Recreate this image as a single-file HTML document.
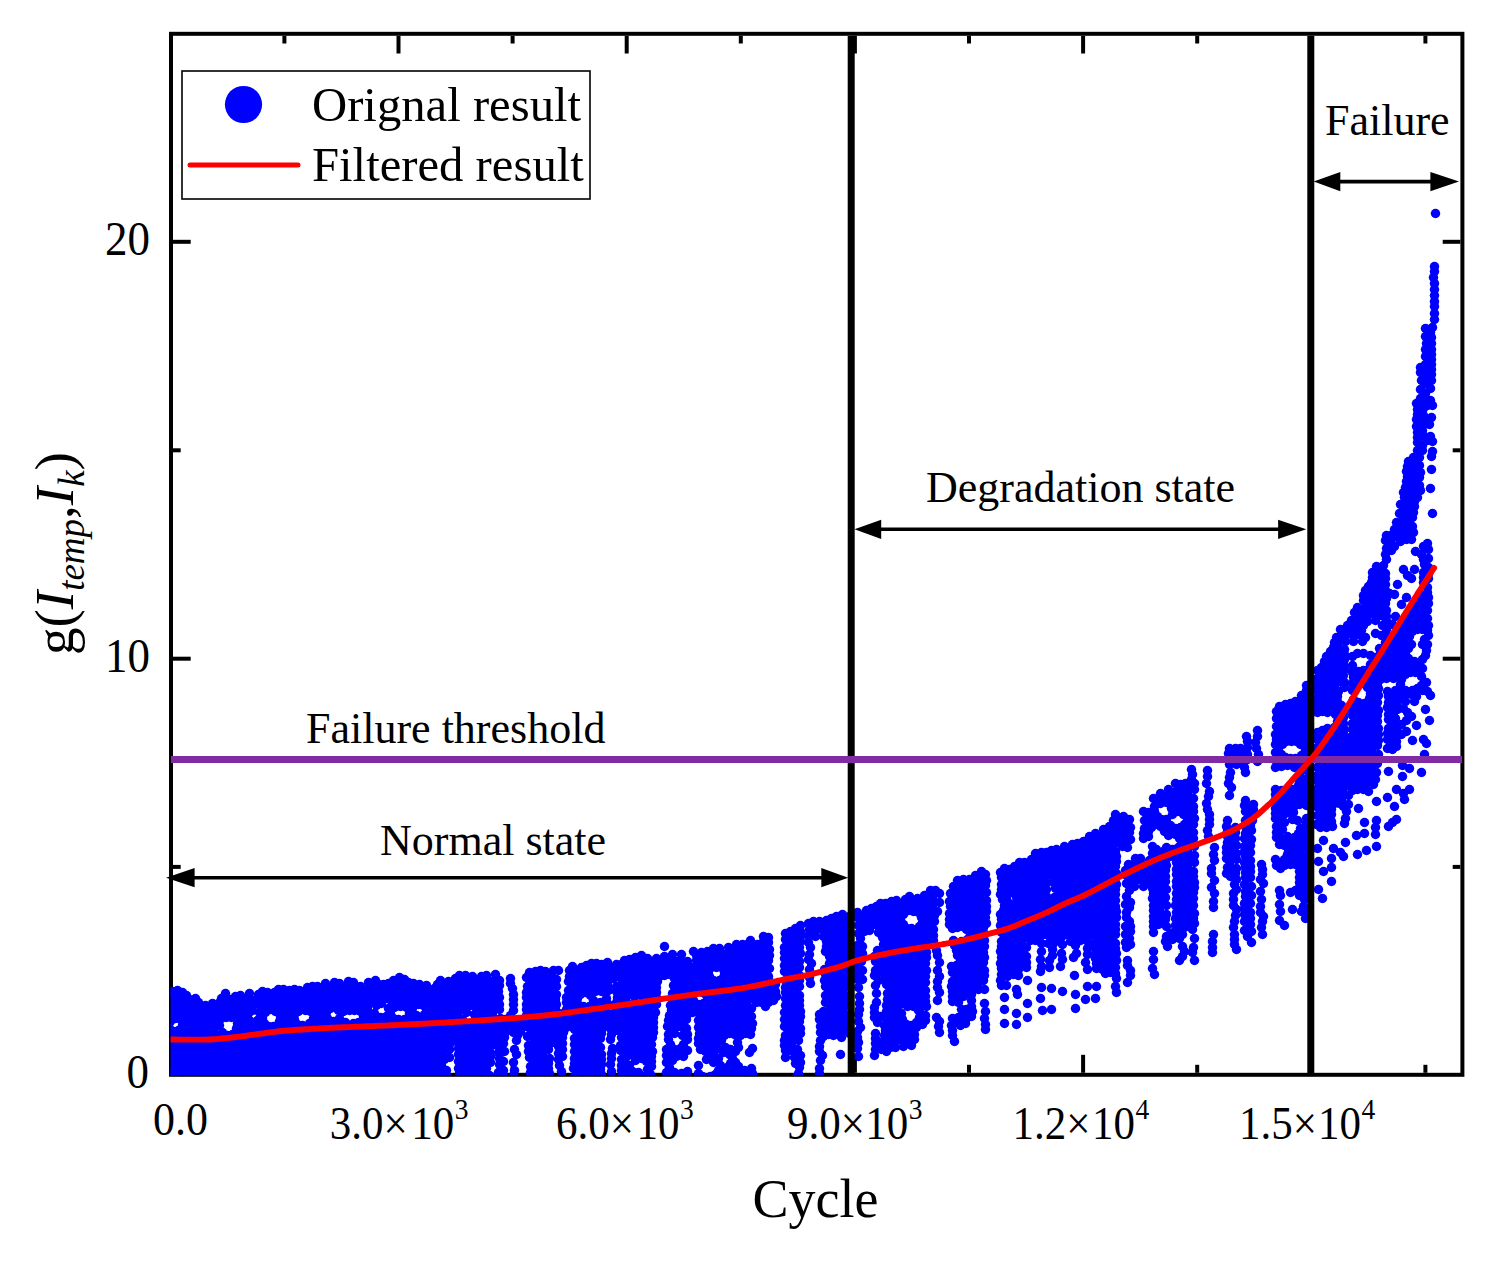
<!DOCTYPE html>
<html><head><meta charset="utf-8">
<style>
html,body{margin:0;padding:0;background:#fff;}
svg{display:block;}
text{font-family:"Liberation Serif",serif;fill:#000;}
</style></head>
<body>
<svg width="1490" height="1265" viewBox="0 0 1490 1265">
<rect x="0" y="0" width="1490" height="1265" fill="#fff"/>
<!-- frame -->
<rect x="171" y="33.8" width="1291.4" height="1041" fill="none" stroke="#000" stroke-width="4"/>
<!-- ticks -->
<g stroke="#000" stroke-width="4">
<line x1="398.5" y1="35.8" x2="398.5" y2="53.5"/>
<line x1="398.5" y1="1072.8" x2="398.5" y2="1054.8"/>
<line x1="626.7" y1="35.8" x2="626.7" y2="53.5"/>
<line x1="626.7" y1="1072.8" x2="626.7" y2="1054.8"/>
<line x1="854.9" y1="35.8" x2="854.9" y2="53.5"/>
<line x1="854.9" y1="1072.8" x2="854.9" y2="1054.8"/>
<line x1="1083.1" y1="35.8" x2="1083.1" y2="53.5"/>
<line x1="1083.1" y1="1072.8" x2="1083.1" y2="1054.8"/>
<line x1="1311.3" y1="35.8" x2="1311.3" y2="53.5"/>
<line x1="1311.3" y1="1072.8" x2="1311.3" y2="1054.8"/>
<line x1="284.4" y1="35.8" x2="284.4" y2="43.5"/>
<line x1="284.4" y1="1072.8" x2="284.4" y2="1064.8"/>
<line x1="512.6" y1="35.8" x2="512.6" y2="43.5"/>
<line x1="512.6" y1="1072.8" x2="512.6" y2="1064.8"/>
<line x1="740.8" y1="35.8" x2="740.8" y2="43.5"/>
<line x1="740.8" y1="1072.8" x2="740.8" y2="1064.8"/>
<line x1="969.0" y1="35.8" x2="969.0" y2="43.5"/>
<line x1="969.0" y1="1072.8" x2="969.0" y2="1064.8"/>
<line x1="1197.2" y1="35.8" x2="1197.2" y2="43.5"/>
<line x1="1197.2" y1="1072.8" x2="1197.2" y2="1064.8"/>
<line x1="1425.4" y1="35.8" x2="1425.4" y2="43.5"/>
<line x1="1425.4" y1="1072.8" x2="1425.4" y2="1064.8"/>
<line x1="173" y1="658.7" x2="190.7" y2="658.7"/>
<line x1="1460.4" y1="658.7" x2="1442.7" y2="658.7"/>
<line x1="173" y1="241.8" x2="190.7" y2="241.8"/>
<line x1="1460.4" y1="241.8" x2="1442.7" y2="241.8"/>
<line x1="173" y1="866.9" x2="180.7" y2="866.9"/>
<line x1="1460.4" y1="866.9" x2="1452.7" y2="866.9"/>
<line x1="173" y1="450.3" x2="180.7" y2="450.3"/>
<line x1="1460.4" y1="450.3" x2="1452.7" y2="450.3"/>
</g>
<defs><clipPath id="pc"><rect x="170.6" y="0" width="1292" height="1075.6"/></clipPath></defs>
<g clip-path="url(#pc)">
<path fill="#00f" fill-rule="evenodd" d="M501 1070 501 1071 500 1072 500 1084 501 1084ZM668 1046 668 1084 685 1084 685 1075 676 1075 675 1074 674 1074 669 1069 669 1068 668 1067 668 1062 669 1061 669 1060 673 1056 674 1056 675 1055 676 1055 677 1054 684 1054 685 1055 685 1051 682 1048 681 1049 680 1049 679 1050 674 1050 673 1049 672 1049 669 1046ZM969 1010 968 1011 961 1011 961 1016 960 1017 960 1018 958 1020 957 1020 956 1021 954 1021 953 1020 953 1028 953 1027 955 1025 956 1025 957 1024 960 1024 962 1022 963 1022 964 1021 964 1019 965 1018 965 1017 967 1015 968 1015 969 1014 970 1014 970 1010ZM859 943 859 981 859 980 860 979 860 946 859 945ZM765 937 765 942 764 943 764 944 762 946 761 946 760 947 758 947 757 946 756 946 754 944 753 944 751 942 750 943 750 944 748 946 747 946 746 947 743 947 742 946 735 946 734 947 733 947 732 948 729 948 728 949 727 949 726 950 723 950 722 949 720 949 719 950 708 950 708 951 706 953 705 953 704 954 702 954 701 953 700 953 699 952 696 952 697 953 697 954 698 955 698 958 697 959 697 960 695 962 694 962 693 963 689 963 688 962 687 962 685 960 685 959 683 957 682 957 680 955 679 956 678 956 677 957 674 957 673 956 671 956 670 957 669 957 668 958 662 958 661 959 658 959 656 961 655 961 654 962 652 962 651 961 650 961 648 959 646 959 645 958 642 958 641 957 640 957 639 958 638 958 637 959 635 959 634 960 630 960 629 961 626 961 624 963 623 963 621 965 620 965 619 966 616 966 615 965 614 965 613 964 611 964 610 963 609 963 607 965 606 965 605 966 603 966 602 965 601 965 600 964 598 964 597 965 590 965 589 966 586 966 585 967 584 967 583 968 582 968 580 970 579 970 578 971 576 971 575 970 574 970 572 968 571 969 570 969 570 982 569 983 569 995 568 996 568 1008 567 1009 567 1010 566 1011 566 1012 564 1014 563 1014 562 1015 559 1015 558 1014 557 1014 555 1012 555 1011 554 1010 554 994 555 993 555 979 556 978 556 971 555 971 554 970 553 971 549 971 548 972 543 972 542 971 540 971 539 972 535 972 534 973 528 973 528 989 527 990 527 1016 526 1017 526 1018 524 1020 523 1020 522 1021 516 1021 515 1020 514 1020 512 1018 512 1017 511 1016 511 1017 509 1019 508 1019 507 1020 502 1020 501 1019 500 1019 498 1017 498 1016 497 1015 497 976 496 975 495 976 494 976 493 977 486 977 485 978 480 978 479 977 478 977 477 978 476 978 475 979 473 979 472 978 471 978 469 976 464 976 463 977 460 977 459 978 458 978 457 979 455 979 454 980 453 980 452 981 451 981 450 982 449 982 448 983 446 983 445 982 444 982 442 980 441 981 440 981 439 982 439 984 438 985 438 986 436 988 435 988 434 989 430 989 429 988 428 988 427 987 426 987 424 985 418 985 417 984 416 984 415 983 414 983 413 984 410 984 409 983 408 983 407 982 406 982 405 981 404 981 401 978 400 979 397 979 396 980 395 980 394 981 393 981 393 982 391 984 390 984 389 985 388 985 387 986 379 986 378 985 377 985 374 982 370 982 369 983 368 983 367 984 366 984 366 985 364 987 363 987 362 988 359 988 358 987 357 987 356 986 355 986 354 985 353 985 352 984 350 984 349 983 348 983 347 982 346 983 343 983 342 984 341 984 340 985 337 985 336 984 335 984 334 983 333 984 331 984 330 983 329 983 328 984 325 984 323 986 322 986 321 987 320 987 319 988 314 988 313 987 308 987 305 990 304 990 303 991 296 991 295 990 292 990 291 991 287 991 286 990 280 990 279 991 278 991 277 992 276 992 275 993 274 993 273 994 268 994 267 993 262 993 261 994 260 994 259 995 257 995 256 996 250 996 249 995 243 995 242 996 239 996 238 997 237 997 236 998 235 998 233 1000 232 1000 231 1001 229 1001 228 1000 227 1000 225 998 225 997 223 997 222 998 222 999 221 1000 221 1001 218 1004 217 1004 216 1005 207 1005 206 1006 201 1006 200 1005 199 1005 198 1004 197 1004 194 1001 194 1000 189 1000 188 999 187 999 184 996 183 996 181 994 180 994 179 993 178 993 176 991 175 992 174 992 173 993 162 993 162 1070 171 1070 172 1071 173 1071 175 1073 175 1074 176 1075 176 1084 447 1084 447 1072 446 1072 445 1071 444 1071 441 1068 441 1067 440 1066 440 1061 441 1060 441 1059 444 1056 445 1056 446 1055 447 1055 447 1043 448 1042 448 1041 450 1039 451 1039 452 1038 455 1038 456 1039 457 1039 459 1041 459 1042 460 1043 460 1084 488 1084 488 1073 487 1072 487 1071 486 1070 486 1069 485 1068 485 1066 486 1065 486 1064 487 1063 487 1062 488 1061 488 1048 489 1047 489 1046 491 1044 492 1044 493 1043 495 1043 496 1044 497 1044 499 1046 499 1047 500 1048 500 1062 501 1063 501 1064 501 1054 502 1053 502 1035 503 1034 503 1033 505 1031 506 1031 507 1030 511 1030 512 1031 513 1031 515 1033 515 1034 516 1034 516 1033 518 1031 519 1031 520 1030 524 1030 525 1031 526 1031 528 1033 528 1034 529 1035 529 1040 530 1041 530 1051 531 1052 531 1062 532 1063 532 1084 547 1084 547 1045 548 1044 548 1043 550 1041 551 1041 552 1040 555 1040 556 1041 557 1041 559 1043 559 1044 560 1045 560 1059 560 1048 561 1047 561 1035 562 1034 562 1029 563 1028 563 1027 565 1025 566 1025 567 1024 571 1024 572 1025 573 1025 575 1027 575 1028 576 1029 576 1046 575 1047 575 1066 574 1067 574 1084 599 1084 599 1029 600 1028 600 1027 602 1025 603 1025 604 1024 607 1024 608 1025 609 1025 611 1027 611 1028 612 1029 612 1030 613 1029 614 1029 615 1028 617 1028 618 1029 619 1029 621 1031 621 1032 622 1033 622 1084 649 1084 649 1068 650 1067 650 1044 651 1043 651 1024 652 1023 652 1016 653 1015 653 1009 654 1008 654 1002 655 1001 655 984 656 983 656 978 657 977 657 976 659 974 660 974 661 973 670 973 671 974 672 974 674 976 674 977 675 978 675 987 674 988 674 996 673 997 673 1003 672 1004 672 1010 671 1011 671 1017 670 1018 670 1025 669 1026 669 1035 672 1032 673 1032 674 1031 680 1031 681 1032 682 1032 685 1035 685 1036 685 1016 686 1015 686 1014 689 1011 690 1011 691 1010 695 1010 696 1011 697 1011 699 1013 699 1014 700 1015 700 1048 702 1048 703 1049 704 1049 707 1052 707 1053 708 1054 708 1059 711 1059 712 1060 713 1060 714 1061 715 1061 716 1062 716 1057 717 1056 717 1055 720 1052 721 1052 722 1051 727 1051 728 1052 729 1052 732 1055 732 1056 733 1057 733 1062 732 1063 732 1064 729 1067 728 1067 727 1068 722 1068 721 1067 720 1067 720 1071 719 1072 719 1073 717 1075 716 1075 715 1076 714 1076 713 1077 712 1077 711 1078 704 1078 703 1077 702 1077 701 1076 700 1076 700 1084 750 1084 750 1071 749 1071 748 1072 744 1072 743 1071 742 1071 741 1070 740 1070 735 1065 735 1064 734 1063 734 1050 733 1050 732 1051 727 1051 726 1050 725 1050 722 1047 722 1046 721 1045 721 1044 720 1043 720 1040 721 1039 721 1038 722 1037 722 1036 725 1033 726 1033 727 1032 732 1032 733 1033 734 1033 737 1036 740 1033 741 1033 742 1032 743 1032 744 1031 749 1031 750 1032 750 1006 751 1005 751 1004 754 1001 755 1001 756 1000 757 1000 758 999 760 999 761 1000 762 1000 764 1002 764 1003 765 1003 769 999 770 999 771 998 774 998 774 984 772 984 771 983 770 983 768 981 768 980 767 979 767 938 766 937ZM635 1058 636 1057 641 1057 642 1058 644 1058 645 1059 646 1059 649 1062 649 1063 650 1064 650 1067 649 1068 649 1069 647 1071 646 1071 645 1072 643 1072 642 1073 635 1073 634 1072 632 1072 631 1071 630 1071 628 1069 628 1068 627 1067 627 1064 628 1063 628 1062 631 1059 632 1059 633 1058ZM171 1018 172 1017 178 1017 179 1018 180 1018 183 1021 183 1022 184 1023 184 1027 183 1028 183 1029 181 1031 180 1031 179 1032 178 1032 177 1033 173 1033 172 1032 171 1032 170 1031 169 1031 167 1029 167 1028 166 1027 166 1023 167 1022 167 1021 170 1018ZM224 1016 225 1015 230 1015 231 1016 232 1016 233 1017 234 1017 236 1019 236 1020 237 1021 237 1022 238 1023 238 1028 237 1029 237 1030 236 1031 236 1032 234 1034 233 1034 232 1035 231 1035 230 1036 225 1036 224 1035 223 1035 222 1034 221 1034 219 1032 219 1031 218 1030 218 1029 217 1028 217 1023 218 1022 218 1021 219 1020 219 1019 221 1017 222 1017 223 1016ZM466 1011 467 1010 472 1010 473 1011 474 1011 477 1014 477 1015 478 1016 478 1019 477 1020 477 1021 474 1024 473 1024 472 1025 467 1025 466 1024 465 1024 462 1021 462 1020 461 1019 461 1016 462 1015 462 1014 465 1011ZM299 1009 300 1008 307 1008 308 1009 309 1009 314 1014 314 1015 315 1016 315 1018 314 1019 314 1020 313 1021 313 1022 310 1025 309 1025 308 1026 299 1026 298 1025 297 1025 293 1021 293 1020 292 1019 292 1015 293 1014 293 1013 296 1010 297 1010 298 1009ZM268 1009 269 1008 273 1008 274 1009 275 1009 276 1010 277 1010 280 1013 280 1014 281 1015 281 1021 280 1022 280 1023 277 1026 276 1026 275 1027 274 1027 273 1028 269 1028 268 1027 267 1027 266 1026 265 1026 262 1023 262 1022 261 1021 261 1015 262 1014 262 1013 265 1010 266 1010 267 1009ZM250 1009 251 1008 256 1008 257 1009 258 1009 260 1011 260 1012 261 1013 261 1018 260 1019 260 1020 258 1022 257 1022 256 1023 251 1023 250 1022 249 1022 247 1020 247 1019 246 1018 246 1013 247 1012 247 1011 249 1009ZM330 1006 331 1005 335 1005 336 1006 337 1006 341 1010 341 1011 342 1011 343 1010 344 1010 345 1009 346 1009 347 1008 356 1008 357 1009 358 1009 359 1010 360 1010 363 1013 363 1014 364 1015 364 1018 363 1019 363 1020 360 1023 359 1023 358 1024 357 1024 356 1025 347 1025 346 1024 345 1024 344 1023 343 1023 340 1020 340 1019 338 1021 337 1021 336 1022 335 1022 334 1023 332 1023 331 1022 330 1022 329 1021 328 1021 325 1018 325 1017 324 1016 324 1012 325 1011 325 1010 329 1006ZM416 1003 417 1002 422 1002 423 1003 424 1003 427 1006 427 1007 428 1008 428 1011 427 1012 427 1013 424 1016 423 1016 422 1017 417 1017 416 1016 415 1016 412 1013 412 1012 411 1011 411 1008 412 1007 412 1006 415 1003ZM378 1002 379 1001 383 1001 384 1002 385 1002 386 1003 387 1003 389 1005 389 1006 390 1007 390 1008 393 1005 394 1005 395 1004 403 1004 404 1005 405 1005 409 1009 409 1010 410 1011 410 1014 409 1015 409 1016 405 1020 404 1020 403 1021 395 1021 394 1020 393 1020 389 1016 389 1015 387 1017 386 1017 385 1018 384 1018 383 1019 379 1019 378 1018 377 1018 376 1017 375 1017 373 1015 373 1014 372 1013 372 1007 373 1006 373 1005 375 1003 376 1003 377 1002ZM635 994 636 993 643 993 644 994 645 994 647 996 647 997 648 998 648 999 649 1000 649 1003 648 1004 648 1005 647 1006 647 1007 645 1009 644 1009 643 1010 636 1010 635 1009 634 1009 632 1007 632 1006 631 1005 631 1004 630 1003 630 1000 631 999 631 998 632 997 632 996 634 994ZM697 990 698 989 701 989 702 990 703 990 704 991 705 991 707 993 707 994 708 995 708 1000 707 1001 707 1002 705 1004 704 1004 703 1005 702 1005 701 1006 698 1006 697 1005 696 1005 695 1004 694 1004 692 1002 692 1001 691 1000 691 995 692 994 692 993 694 991 695 991 696 990ZM610 978 611 977 613 977 614 978 615 978 617 980 617 981 618 982 618 1005 617 1006 617 1007 615 1009 614 1009 613 1010 611 1010 610 1009 609 1009 607 1007 607 1006 606 1005 606 1000 606 1001 604 1003 603 1003 602 1004 595 1004 594 1003 593 1003 593 1004 590 1007 589 1007 588 1008 581 1008 580 1007 579 1007 576 1004 576 1003 575 1002 575 997 576 996 576 995 579 992 580 992 581 991 588 991 589 992 590 992 591 993 591 992 593 990 594 990 595 989 601 989 602 990 603 990 606 993 606 994 606 982 607 981 607 980 609 978ZM712 966 713 965 719 965 720 966 721 966 724 969 724 970 725 971 725 975 724 976 724 977 721 980 720 980 719 981 713 981 712 980 711 980 708 977 708 976 707 975 707 971 708 970 708 969 711 966ZM797 927 797 928 794 931 793 931 792 932 786 932 786 1055 792 1055 793 1056 794 1056 796 1058 796 1059 797 1060 797 1070 797 1069 798 1068 798 1052 797 1051 797 1050 796 1049 796 1038 797 1037 797 1036 798 1035 798 927ZM847 915 846 916 842 916 841 917 839 917 838 916 837 916 837 917 835 919 834 919 833 920 831 920 830 921 828 921 827 920 827 921 825 923 824 923 823 924 821 924 820 923 819 923 818 922 817 922 816 923 812 923 811 922 810 922 810 938 810 937 812 935 813 935 814 934 816 934 817 935 818 934 819 934 820 933 822 933 823 934 824 934 826 936 826 937 827 938 827 953 828 953 831 956 831 957 832 958 832 962 831 963 831 964 829 966 828 966 827 967 826 967 826 1009 825 1010 825 1011 823 1013 822 1013 821 1014 821 1037 821 1036 823 1034 824 1034 825 1033 833 1033 834 1034 835 1034 837 1036 838 1036 839 1035 841 1035 842 1036 843 1036 844 1035 845 1035 846 1034 847 1034ZM1304 906 1304 907 1302 909 1301 909 1301 910 1302 910 1304 912 1304 913ZM929 892 927 894 926 894 923 897 922 897 921 898 919 898 918 899 915 899 914 898 913 898 912 899 910 899 909 898 907 900 906 900 905 901 903 901 902 900 901 901 900 901 899 902 896 902 895 901 893 901 892 902 891 902 890 903 889 903 888 904 885 904 884 903 883 904 882 904 879 907 878 907 877 908 875 908 874 909 870 909 868 911 867 911 866 912 860 912 859 911 859 939 859 937 860 936 860 934 861 933 861 932 863 930 864 930 865 929 866 929 867 928 869 928 870 929 875 929 876 930 877 930 878 931 879 931 880 932 881 932 883 934 883 935 884 936 884 937 885 938 885 939 886 940 886 942 885 943 885 944 884 945 884 946 883 947 883 948 881 950 880 950 879 951 878 951 877 952 876 952 876 980 876 979 878 977 879 977 880 976 882 976 883 977 884 977 886 979 886 980 887 981 887 983 888 984 888 1009 887 1010 887 1012 886 1013 886 1014 884 1016 883 1016 882 1017 880 1017 879 1016 878 1016 876 1014 876 1013 876 1018 877 1019 877 1020 881 1020 882 1021 883 1021 885 1023 885 1024 886 1025 886 1033 885 1034 885 1035 883 1037 882 1037 881 1038 879 1038 878 1037 877 1037 876 1036 876 1052 876 1051 878 1049 879 1049 880 1048 882 1048 883 1049 884 1049 885 1050 886 1049 886 1048 888 1046 889 1046 890 1045 892 1045 893 1046 895 1046 896 1045 897 1045 898 1044 900 1044 901 1045 902 1045 903 1044 906 1044 907 1045 908 1044 909 1044 910 1043 913 1043 913 1029 914 1028 914 1027 916 1025 917 1025 918 1024 919 1024 922 1021 923 1021 924 1020 924 943 925 942 925 941 927 939 928 939 929 938 931 938 932 939 932 937 931 936 931 935 930 934 930 932 931 931 931 930 932 929 932 921 933 920 933 915 934 914 934 912 935 911 935 910 937 908 937 893 936 892ZM906 1006 907 1005 914 1005 915 1006 916 1006 919 1009 919 1010 920 1011 920 1012 921 1013 921 1018 920 1019 920 1020 919 1021 919 1022 916 1025 915 1025 914 1026 907 1026 906 1025 905 1025 902 1022 902 1021 901 1020 901 1019 900 1018 900 1013 901 1012 901 1011 902 1010 902 1009 905 1006ZM907 910 908 909 914 909 915 910 916 910 917 911 918 911 922 915 922 916 923 917 923 922 922 923 922 924 918 928 917 928 916 929 915 929 914 930 908 930 907 929 906 929 905 928 904 928 900 924 900 923 899 922 899 917 900 916 900 915 904 911 905 911 906 910ZM980 872 980 873 978 875 977 875 976 876 974 876 971 879 970 879 969 880 966 880 965 879 964 879 963 880 961 880 960 879 960 880 957 883 957 884 955 886 954 886 953 887 952 887 953 888 953 890 952 891 952 892 951 893 951 926 952 927 953 926 954 926 955 925 963 925 964 926 965 926 966 927 967 927 970 930 970 931 971 932 971 936 970 937 970 938 967 941 966 941 965 942 964 942 963 943 955 943 956 944 956 946 957 947 957 949 958 950 958 952 959 953 959 955 960 956 960 958 961 959 961 962 960 963 960 964 958 966 957 966 956 967 954 967 953 966 953 999 954 998 957 998 957 997 959 995 960 995 961 994 968 994 969 995 970 995 970 992 971 991 971 990 973 988 974 988 975 987 982 987 982 926 983 925 983 924 984 923 984 872 983 873 981 873ZM1228 824 1228 874 1230 874 1231 875 1232 875 1234 877 1234 878 1234 828 1232 828 1231 827 1230 827 1228 825ZM1116 817 1116 818 1115 819 1115 820 1113 822 1112 822 1111 823 1111 824 1110 825 1110 826 1106 830 1105 830 1104 831 1101 831 1100 832 1097 832 1095 834 1094 834 1093 835 1092 835 1091 836 1091 837 1089 839 1088 839 1087 840 1086 840 1085 841 1084 841 1083 842 1080 842 1079 843 1078 843 1077 844 1075 844 1074 845 1073 845 1072 846 1069 846 1068 845 1066 847 1065 847 1064 848 1061 848 1060 849 1059 849 1058 850 1056 850 1055 851 1054 851 1053 852 1050 852 1049 853 1044 853 1043 854 1041 854 1040 853 1039 854 1038 854 1037 855 1036 855 1035 856 1035 857 1033 859 1032 859 1029 862 1028 862 1027 863 1026 863 1025 864 1017 864 1016 865 1015 865 1015 866 1014 867 1014 868 1012 870 1011 870 1010 871 1008 871 1007 870 1006 870 1005 869 1002 869 1002 896 1005 899 1005 900 1005 895 1006 894 1006 893 1008 891 1009 891 1010 890 1012 890 1013 891 1014 891 1016 893 1016 894 1017 895 1017 906 1016 907 1016 908 1014 910 1013 910 1012 911 1010 911 1009 910 1008 910 1006 908 1006 907 1006 909 1005 910 1005 911 1003 913 1002 913 1002 983 1005 983 1005 978 1006 977 1006 976 1008 974 1009 974 1010 973 1013 973 1014 974 1016 974 1016 968 1017 967 1017 966 1019 964 1020 964 1021 963 1023 963 1024 964 1025 964 1025 944 1026 943 1026 942 1028 940 1029 940 1030 939 1031 939 1032 938 1034 938 1035 939 1036 939 1037 940 1038 940 1040 942 1040 943 1040 942 1042 940 1043 940 1044 939 1046 939 1047 940 1048 940 1050 942 1050 943 1051 943 1051 942 1053 940 1054 940 1055 939 1057 939 1058 940 1059 940 1061 942 1061 943 1062 943 1062 942 1064 940 1065 940 1066 939 1070 939 1071 940 1072 940 1074 942 1074 943 1075 943 1075 942 1077 940 1078 940 1079 939 1082 939 1083 940 1084 940 1086 942 1086 943 1086 942 1088 940 1089 940 1090 939 1092 939 1093 940 1094 940 1096 942 1096 943 1097 944 1097 969 1098 968 1099 968 1100 967 1102 967 1103 968 1104 968 1106 970 1106 971 1107 972 1108 972 1109 971 1111 971 1112 972 1113 972 1114 973 1114 851 1115 850 1115 849 1117 847 1118 847 1119 846 1120 846 1121 845 1125 845 1126 846 1127 846 1128 847 1128 818 1127 817 1126 817 1125 818 1122 818 1121 817ZM1048 880 1049 879 1051 879 1052 880 1053 880 1055 882 1055 883 1056 884 1056 896 1055 897 1055 898 1053 900 1052 900 1051 901 1049 901 1048 900 1047 900 1045 898 1045 897 1044 896 1044 884 1045 883 1045 882 1047 880ZM1246 803 1246 934 1249 937 1249 938 1249 821 1250 820 1250 819 1251 818 1251 804 1248 804 1247 803ZM1192 782 1192 783 1190 785 1189 785 1188 786 1186 786 1185 785 1180 785 1179 786 1176 786 1175 785 1175 786 1172 789 1171 789 1170 790 1168 790 1167 791 1166 791 1165 792 1162 792 1162 795 1161 796 1161 797 1159 799 1158 799 1157 800 1154 800 1154 805 1157 802 1158 802 1159 801 1166 801 1167 802 1168 802 1172 806 1172 807 1173 808 1173 811 1174 810 1181 810 1182 811 1183 811 1187 815 1187 816 1188 817 1188 822 1187 823 1187 824 1183 828 1182 828 1181 829 1174 829 1173 828 1172 828 1168 824 1168 823 1167 822 1167 819 1166 820 1159 820 1158 819 1157 819 1153 815 1153 814 1152 813 1152 812 1151 813 1150 813 1149 814 1147 814 1146 813 1145 813 1145 836 1146 836 1147 835 1147 831 1148 830 1148 829 1149 828 1149 827 1152 824 1153 824 1154 823 1159 823 1160 824 1161 824 1164 827 1164 828 1165 829 1165 830 1166 831 1166 832 1167 833 1167 834 1168 833 1175 833 1176 834 1177 834 1178 835 1179 835 1181 837 1181 838 1182 839 1182 844 1181 845 1181 846 1179 848 1178 848 1177 849 1176 849 1175 850 1168 850 1167 849 1165 851 1164 851 1163 852 1157 852 1156 851 1155 851 1154 850 1154 857 1153 858 1153 859 1151 861 1150 861 1149 862 1147 862 1146 861 1145 861 1143 859 1142 859 1141 860 1139 860 1138 859 1137 859 1137 861 1136 862 1136 863 1134 865 1133 865 1132 866 1130 866 1129 865 1128 865 1127 864 1127 945 1128 946 1128 890 1129 889 1129 888 1131 886 1132 886 1133 885 1138 885 1139 884 1141 884 1142 885 1143 885 1145 883 1146 883 1147 882 1149 882 1150 883 1151 883 1153 885 1153 886 1154 887 1154 926 1156 924 1157 924 1158 923 1161 923 1162 924 1163 924 1164 925 1164 859 1165 858 1165 857 1167 855 1168 855 1169 854 1172 854 1173 855 1174 855 1176 857 1176 858 1177 859 1177 930 1176 931 1176 932 1174 934 1173 934 1172 935 1169 935 1168 934 1168 939 1167 940 1167 942 1168 943 1168 942 1169 941 1169 940 1172 937 1173 937 1174 936 1177 936 1178 937 1179 937 1179 935 1180 934 1180 931 1181 930 1181 929 1182 928 1182 927 1184 925 1185 925 1186 924 1189 924 1190 925 1191 925 1192 926ZM1245 746 1245 747 1243 749 1242 749 1241 750 1239 750 1238 749 1237 749 1236 750 1235 750 1234 751 1231 751 1230 750 1230 766 1230 765 1232 763 1233 763 1234 762 1241 762 1242 763 1243 763 1245 765 1245 766ZM1304 692 1304 693 1301 696 1300 696 1299 697 1299 698 1295 702 1294 702 1292 704 1291 704 1290 705 1286 705 1285 706 1282 706 1281 707 1279 707 1278 708 1277 708 1277 766 1278 765 1279 765 1280 764 1290 764 1291 765 1292 765 1293 766 1294 766 1295 767 1296 767 1298 769 1298 770 1300 772 1300 773 1301 774 1301 776 1302 777 1302 779 1301 780 1301 782 1300 783 1300 784 1298 786 1298 787 1296 789 1295 789 1294 790 1293 790 1292 791 1291 791 1290 792 1280 792 1279 791 1278 791 1277 790 1277 842 1282 842 1283 843 1284 843 1288 847 1288 848 1289 849 1289 856 1288 857 1288 858 1284 862 1283 862 1282 863 1277 863 1277 865 1279 867 1281 865 1282 865 1283 864 1287 864 1288 863 1290 863 1291 864 1292 864 1293 863 1295 863 1296 864 1297 864 1299 866 1299 867 1300 868 1300 887 1299 888 1299 889 1297 891 1296 891 1297 891 1301 895 1302 895 1304 897 1304 898 1304 820 1303 821 1300 821 1301 822 1301 823 1302 824 1302 831 1301 832 1301 833 1297 837 1296 837 1295 838 1288 838 1287 837 1286 837 1282 833 1282 832 1281 831 1281 824 1282 823 1282 822 1286 818 1287 818 1288 817 1293 817 1292 816 1292 815 1291 814 1291 809 1292 808 1292 807 1296 803 1297 803 1298 802 1303 802 1304 803 1304 753 1304 754 1301 757 1300 757 1299 758 1298 758 1297 759 1285 759 1284 758 1283 758 1282 757 1281 757 1278 754 1278 753 1277 752 1277 747 1278 746 1278 745 1281 742 1282 742 1283 741 1284 741 1285 740 1297 740 1298 741 1299 741 1300 742 1301 742 1304 745 1304 746ZM1423 682 1423 684 1422 685 1422 686 1418 690 1417 690 1416 691 1415 691 1414 692 1407 692 1406 691 1405 691 1404 690 1403 690 1401 688 1401 687 1400 686 1400 685 1400 686 1399 687 1399 688 1396 691 1395 691 1394 692 1389 692 1389 749 1390 749 1391 748 1395 748 1395 747 1394 746 1394 737 1395 736 1395 735 1397 733 1398 733 1399 732 1401 732 1402 733 1403 733 1403 732 1404 731 1403 730 1402 730 1400 728 1400 727 1399 726 1399 724 1400 723 1399 723 1398 722 1397 722 1393 718 1393 717 1392 716 1392 713 1393 712 1393 711 1397 707 1398 707 1399 706 1401 706 1401 704 1402 703 1402 702 1405 699 1406 699 1407 698 1409 698 1410 699 1411 699 1413 701 1414 700 1415 700 1416 699 1415 698 1415 696 1416 695 1416 694 1417 693 1417 692 1419 690 1420 690 1421 689 1423 689 1424 690 1423 689 1423 687 1424 686 1424 685 1426 683 1425 683 1424 682ZM1425 642 1425 643 1423 645 1424 646 1424 647 1425 646ZM1410 576 1410 577 1411 577 1412 578 1411 577 1411 576ZM1425 542 1425 549 1424 550 1424 551 1422 553 1421 553 1422 553 1424 555 1424 556 1425 557 1425 592 1424 593 1424 594 1422 596 1422 597 1421 598 1421 599 1419 601 1419 602 1417 604 1417 605 1416 606 1416 607 1414 609 1414 610 1412 612 1412 613 1410 615 1410 616 1409 617 1409 618 1407 620 1407 621 1406 622 1406 623 1405 624 1405 625 1404 626 1404 627 1402 629 1402 630 1401 631 1401 632 1400 633 1400 634 1398 636 1398 637 1397 638 1397 639 1396 640 1396 641 1394 643 1394 644 1392 646 1391 646 1390 647 1388 647 1387 646 1386 646 1384 644 1384 643 1383 642 1383 637 1384 636 1384 634 1384 635 1383 636 1383 644 1382 645 1382 646 1381 647 1381 649 1382 650 1382 652 1381 653 1381 654 1378 657 1377 657 1376 658 1372 658 1371 657 1371 658 1372 659 1372 665 1371 666 1371 667 1367 671 1366 671 1365 672 1358 672 1357 671 1356 671 1354 669 1354 687 1354 686 1356 684 1357 684 1358 683 1359 683 1360 682 1363 682 1364 683 1365 683 1366 684 1367 684 1370 687 1370 688 1371 689 1371 690 1372 691 1372 696 1371 697 1371 698 1370 699 1370 700 1366 704 1365 704 1364 705 1360 705 1359 704 1358 704 1357 703 1356 703 1354 701 1354 734 1353 735 1353 736 1351 738 1350 738 1349 739 1347 739 1346 738 1345 738 1343 736 1343 735 1342 734 1342 707 1341 706 1340 706 1336 702 1336 701 1335 700 1335 692 1336 691 1336 690 1340 686 1341 686 1342 685 1342 643 1343 642 1343 641 1345 639 1346 639 1347 638 1349 638 1350 639 1351 639 1352 640 1355 640 1356 639 1365 639 1365 638 1362 635 1362 634 1361 633 1361 631 1360 630 1360 628 1361 627 1361 626 1362 625 1362 624 1363 623 1363 622 1365 620 1366 620 1367 619 1368 619 1369 618 1377 618 1378 619 1379 619 1380 620 1381 620 1383 622 1383 623 1384 624 1384 625 1385 626 1385 627 1387 625 1388 625 1387 625 1385 623 1385 622 1384 621 1384 596 1385 595 1385 594 1386 593 1385 592 1385 591 1384 590 1384 567 1383 567 1382 568 1375 568 1375 570 1374 571 1374 574 1373 575 1373 578 1372 579 1372 582 1371 583 1371 585 1370 586 1370 587 1368 589 1368 590 1366 592 1366 594 1365 595 1365 597 1364 598 1364 600 1363 601 1363 602 1362 603 1362 604 1355 611 1355 613 1354 614 1354 619 1353 620 1353 622 1352 623 1352 624 1350 626 1349 626 1348 627 1347 627 1346 628 1344 628 1338 634 1338 636 1337 637 1337 640 1336 641 1336 643 1335 644 1335 646 1334 647 1334 648 1330 652 1330 653 1328 655 1328 656 1327 657 1327 658 1325 660 1325 662 1324 663 1324 665 1323 666 1323 667 1320 670 1319 670 1318 671 1318 710 1319 710 1320 709 1325 709 1326 710 1330 710 1331 711 1333 711 1334 712 1335 712 1337 714 1337 715 1338 716 1338 724 1337 725 1337 726 1335 728 1334 728 1333 729 1332 729 1331 730 1327 730 1326 731 1323 731 1322 732 1318 732 1318 825 1331 825 1330 824 1330 819 1329 818 1329 814 1330 813 1330 808 1331 807 1331 806 1332 805 1332 804 1334 802 1335 802 1336 801 1340 801 1341 802 1342 802 1345 805 1345 806 1345 805 1346 804 1346 793 1347 792 1347 791 1349 789 1350 789 1351 788 1364 788 1365 789 1366 789 1367 790 1368 790 1368 789 1369 788 1369 787 1371 785 1371 784 1372 783 1372 782 1373 781 1373 780 1374 779 1374 778 1375 777 1375 769 1376 768 1376 760 1377 759 1377 757 1376 756 1376 682 1377 681 1377 680 1379 678 1380 678 1381 677 1395 677 1396 678 1397 678 1398 679 1399 679 1399 678 1400 677 1400 676 1404 672 1405 672 1406 671 1415 671 1416 672 1417 672 1420 675 1420 674 1421 673 1421 664 1422 663 1422 661 1421 662 1420 662 1419 663 1412 663 1411 662 1410 662 1406 658 1406 657 1405 656 1405 655 1404 654 1404 652 1405 651 1405 649 1406 648 1406 647 1409 644 1410 644 1409 643 1409 642 1408 641 1408 639 1407 638 1407 636 1408 635 1408 633 1409 632 1409 631 1412 628 1413 628 1414 627 1420 627 1421 628 1422 628 1425 631 1425 632 1426 633 1426 635 1426 542ZM1427 328 1427 364 1426 365 1426 366 1424 368 1423 368 1422 369 1422 399 1421 400 1421 401 1419 403 1418 403 1418 453 1417 454 1417 455 1415 457 1414 457 1413 458 1410 458 1410 463 1409 464 1409 470 1408 471 1408 477 1407 478 1407 483 1406 484 1406 490 1405 491 1405 497 1404 498 1404 500 1403 501 1403 502 1402 503 1402 506 1401 507 1401 510 1400 511 1400 514 1399 515 1399 518 1398 519 1398 522 1397 523 1397 526 1396 527 1396 530 1395 531 1395 532 1394 533 1394 534 1392 536 1391 536 1390 537 1387 537 1387 554 1387 553 1389 551 1389 550 1391 548 1391 547 1393 545 1393 544 1397 540 1398 540 1399 539 1403 539 1404 538 1412 538 1412 533 1411 532 1411 516 1412 515 1412 501 1413 500 1413 499 1415 497 1416 497 1417 496 1418 496 1418 454 1419 453 1419 452 1421 450 1421 443 1422 442 1422 441 1424 439 1425 439 1426 438 1428 438 1429 439 1430 439 1430 437 1429 437 1428 438 1426 438 1425 437 1424 437 1422 435 1422 434 1421 433 1421 426 1422 425 1422 424 1424 422 1425 422 1426 421 1428 421 1429 422 1430 422 1430 419 1429 419 1428 420 1426 420 1425 419 1424 419 1422 417 1422 416 1421 415 1421 409 1422 408 1422 407 1424 405 1425 405 1426 404 1428 404 1429 405 1430 405 1430 401 1428 401 1427 400 1426 400 1424 398 1424 397 1423 396 1423 392 1424 391 1424 390 1426 388 1427 388 1428 387 1430 387 1430 382 1429 381 1429 380 1428 379 1428 377 1429 376 1429 375 1430 374 1430 372 1429 371 1429 368 1430 367 1430 364 1429 363 1429 360 1430 359 1430 356 1429 355 1429 351 1430 350 1430 349 1431 348 1430 347 1430 346 1429 345 1429 341 1430 340 1430 339 1431 338 1430 337 1430 336 1429 335 1429 331 1430 330 1430 329 1431 328Z"/>
<g fill="#00f"><circle cx="558.5" cy="1013.5" r="4.75"/><circle cx="775.5" cy="984.5" r="4.75"/><circle cx="1377.5" cy="683.5" r="4.75"/><circle cx="1288.5" cy="849.5" r="4.75"/><circle cx="925.5" cy="982.5" r="4.75"/><circle cx="768.5" cy="942.5" r="4.75"/><circle cx="1408.5" cy="461.5" r="4.75"/><circle cx="589.5" cy="1006.5" r="4.75"/><circle cx="503.5" cy="1043.5" r="4.75"/><circle cx="800.5" cy="1028.5" r="4.75"/><circle cx="1193.5" cy="871.5" r="4.75"/><circle cx="1194.5" cy="862.5" r="4.75"/><circle cx="1095.5" cy="998.5" r="4.75"/><circle cx="1338.5" cy="691.5" r="4.75"/><circle cx="963.5" cy="879.5" r="4.75"/><circle cx="1175.5" cy="834.5" r="4.75"/><circle cx="951.5" cy="1025.5" r="4.75"/><circle cx="1075.5" cy="1008.5" r="4.75"/><circle cx="692.5" cy="1012.5" r="4.75"/><circle cx="747.5" cy="944.5" r="4.75"/><circle cx="1247.5" cy="936.5" r="4.75"/><circle cx="513.5" cy="994.5" r="4.75"/><circle cx="472.5" cy="976.5" r="4.75"/><circle cx="1425.5" cy="336.5" r="4.75"/><circle cx="1152.5" cy="846.5" r="4.75"/><circle cx="1095.5" cy="833.5" r="4.75"/><circle cx="1206.5" cy="783.5" r="4.75"/><circle cx="1155.5" cy="824.5" r="4.75"/><circle cx="1426.5" cy="650.5" r="4.75"/><circle cx="744.5" cy="1070.5" r="4.75"/><circle cx="390.5" cy="1013.5" r="4.75"/><circle cx="751.5" cy="1085.5" r="4.75"/><circle cx="651.5" cy="1081.5" r="4.75"/><circle cx="1245.5" cy="877.5" r="4.75"/><circle cx="198.5" cy="1002.5" r="4.75"/><circle cx="1001.5" cy="877.5" r="4.75"/><circle cx="1378.5" cy="740.5" r="4.75"/><circle cx="985.5" cy="1011.5" r="4.75"/><circle cx="911.5" cy="1045.5" r="4.75"/><circle cx="360.5" cy="1011.5" r="4.75"/><circle cx="1316.5" cy="698.5" r="4.75"/><circle cx="1280.5" cy="868.5" r="4.75"/><circle cx="1176.5" cy="881.5" r="4.75"/><circle cx="858.5" cy="1021.5" r="4.75"/><circle cx="799.5" cy="1005.5" r="4.75"/><circle cx="785.5" cy="1057.5" r="4.75"/><circle cx="305.5" cy="1085.5" r="4.75"/><circle cx="734.5" cy="1034.5" r="4.75"/><circle cx="1245.5" cy="896.5" r="4.75"/><circle cx="1290.5" cy="703.5" r="4.75"/><circle cx="713.5" cy="948.5" r="4.75"/><circle cx="466.5" cy="1012.5" r="4.75"/><circle cx="621.5" cy="964.5" r="4.75"/><circle cx="581.5" cy="967.5" r="4.75"/><circle cx="820.5" cy="1060.5" r="4.75"/><circle cx="1211.5" cy="868.5" r="4.75"/><circle cx="1213.5" cy="901.5" r="4.75"/><circle cx="1316.5" cy="806.5" r="4.75"/><circle cx="1429.5" cy="424.5" r="4.75"/><circle cx="1425.5" cy="356.5" r="4.75"/><circle cx="635.5" cy="957.5" r="4.75"/><circle cx="472.5" cy="1024.5" r="4.75"/><circle cx="878.5" cy="980.5" r="4.75"/><circle cx="1427.5" cy="543.5" r="4.75"/><circle cx="345.5" cy="1022.5" r="4.75"/><circle cx="1317.5" cy="685.5" r="4.75"/><circle cx="936.5" cy="1017.5" r="4.75"/><circle cx="1305.5" cy="839.5" r="4.75"/><circle cx="700.5" cy="1049.5" r="4.75"/><circle cx="330.5" cy="1008.5" r="4.75"/><circle cx="1351.5" cy="620.5" r="4.75"/><circle cx="1076.5" cy="953.5" r="4.75"/><circle cx="1152.5" cy="968.5" r="4.75"/><circle cx="1227.5" cy="820.5" r="4.75"/><circle cx="1157.5" cy="816.5" r="4.75"/><circle cx="296.5" cy="1085.5" r="4.75"/><circle cx="231.5" cy="1017.5" r="4.75"/><circle cx="1417.5" cy="437.5" r="4.75"/><circle cx="860.5" cy="938.5" r="4.75"/><circle cx="1434.5" cy="306.5" r="4.75"/><circle cx="880.5" cy="1016.5" r="4.75"/><circle cx="902.5" cy="1019.5" r="4.75"/><circle cx="757.5" cy="944.5" r="4.75"/><circle cx="1422.5" cy="644.5" r="4.75"/><circle cx="621.5" cy="1070.5" r="4.75"/><circle cx="1358.5" cy="808.5" r="4.75"/><circle cx="1214.5" cy="860.5" r="4.75"/><circle cx="1213.5" cy="854.5" r="4.75"/><circle cx="732.5" cy="1058.5" r="4.75"/><circle cx="568.5" cy="981.5" r="4.75"/><circle cx="949.5" cy="924.5" r="4.75"/><circle cx="1432.5" cy="513.5" r="4.75"/><circle cx="1370.5" cy="655.5" r="4.75"/><circle cx="723.5" cy="1052.5" r="4.75"/><circle cx="449.5" cy="1049.5" r="4.75"/><circle cx="1166.5" cy="802.5" r="4.75"/><circle cx="876.5" cy="906.5" r="4.75"/><circle cx="1316.5" cy="780.5" r="4.75"/><circle cx="1406.5" cy="539.5" r="4.75"/><circle cx="698.5" cy="1004.5" r="4.75"/><circle cx="848.5" cy="1020.5" r="4.75"/><circle cx="1164.5" cy="831.5" r="4.75"/><circle cx="895.5" cy="1047.5" r="4.75"/><circle cx="600.5" cy="1047.5" r="4.75"/><circle cx="1428.5" cy="573.5" r="4.75"/><circle cx="1426.5" cy="743.5" r="4.75"/><circle cx="768.5" cy="976.5" r="4.75"/><circle cx="1250.5" cy="860.5" r="4.75"/><circle cx="1193.5" cy="798.5" r="4.75"/><circle cx="986.5" cy="911.5" r="4.75"/><circle cx="1250.5" cy="903.5" r="4.75"/><circle cx="918.5" cy="912.5" r="4.75"/><circle cx="737.5" cy="1042.5" r="4.75"/><circle cx="608.5" cy="990.5" r="4.75"/><circle cx="1247.5" cy="754.5" r="4.75"/><circle cx="696.5" cy="960.5" r="4.75"/><circle cx="491.5" cy="1045.5" r="4.75"/><circle cx="876.5" cy="1002.5" r="4.75"/><circle cx="862.5" cy="970.5" r="4.75"/><circle cx="1299.5" cy="882.5" r="4.75"/><circle cx="1001.5" cy="985.5" r="4.75"/><circle cx="849.5" cy="945.5" r="4.75"/><circle cx="1292.5" cy="789.5" r="4.75"/><circle cx="678.5" cy="1085.5" r="4.75"/><circle cx="1049.5" cy="960.5" r="4.75"/><circle cx="1175.5" cy="930.5" r="4.75"/><circle cx="672.5" cy="954.5" r="4.75"/><circle cx="1103.5" cy="829.5" r="4.75"/><circle cx="1207.5" cy="809.5" r="4.75"/><circle cx="189.5" cy="999.5" r="4.75"/><circle cx="952.5" cy="1035.5" r="4.75"/><circle cx="785.5" cy="1005.5" r="4.75"/><circle cx="1116.5" cy="992.5" r="4.75"/><circle cx="1276.5" cy="739.5" r="4.75"/><circle cx="1423.5" cy="415.5" r="4.75"/><circle cx="232.5" cy="1086.5" r="4.75"/><circle cx="718.5" cy="1086.5" r="4.75"/><circle cx="1306.5" cy="867.5" r="4.75"/><circle cx="1376.5" cy="772.5" r="4.75"/><circle cx="632.5" cy="1071.5" r="4.75"/><circle cx="1420.5" cy="372.5" r="4.75"/><circle cx="595.5" cy="1086.5" r="4.75"/><circle cx="362.5" cy="1086.5" r="4.75"/><circle cx="857.5" cy="945.5" r="4.75"/><circle cx="857.5" cy="1037.5" r="4.75"/><circle cx="1253.5" cy="804.5" r="4.75"/><circle cx="1048.5" cy="943.5" r="4.75"/><circle cx="1194.5" cy="960.5" r="4.75"/><circle cx="1170.5" cy="933.5" r="4.75"/><circle cx="1292.5" cy="819.5" r="4.75"/><circle cx="1153.5" cy="916.5" r="4.75"/><circle cx="1085.5" cy="962.5" r="4.75"/><circle cx="695.5" cy="992.5" r="4.75"/><circle cx="1343.5" cy="806.5" r="4.75"/><circle cx="682.5" cy="1035.5" r="4.75"/><circle cx="1184.5" cy="824.5" r="4.75"/><circle cx="1040.5" cy="959.5" r="4.75"/><circle cx="874.5" cy="956.5" r="4.75"/><circle cx="1415.5" cy="672.5" r="4.75"/><circle cx="1235.5" cy="838.5" r="4.75"/><circle cx="1324.5" cy="661.5" r="4.75"/><circle cx="601.5" cy="1082.5" r="4.75"/><circle cx="1299.5" cy="804.5" r="4.75"/><circle cx="1261.5" cy="864.5" r="4.75"/><circle cx="875.5" cy="1049.5" r="4.75"/><circle cx="1421.5" cy="554.5" r="4.75"/><circle cx="922.5" cy="1024.5" r="4.75"/><circle cx="858.5" cy="925.5" r="4.75"/><circle cx="1152.5" cy="888.5" r="4.75"/><circle cx="1257.5" cy="736.5" r="4.75"/><circle cx="1250.5" cy="912.5" r="4.75"/><circle cx="499.5" cy="1064.5" r="4.75"/><circle cx="1133.5" cy="864.5" r="4.75"/><circle cx="1432.5" cy="327.5" r="4.75"/><circle cx="800.5" cy="931.5" r="4.75"/><circle cx="641.5" cy="1085.5" r="4.75"/><circle cx="1403.5" cy="708.5" r="4.75"/><circle cx="1125.5" cy="870.5" r="4.75"/><circle cx="274.5" cy="992.5" r="4.75"/><circle cx="927.5" cy="942.5" r="4.75"/><circle cx="459.5" cy="975.5" r="4.75"/><circle cx="798.5" cy="1073.5" r="4.75"/><circle cx="720.5" cy="1065.5" r="4.75"/><circle cx="657.5" cy="981.5" r="4.75"/><circle cx="1095.5" cy="953.5" r="4.75"/><circle cx="1411.5" cy="644.5" r="4.75"/><circle cx="1378.5" cy="754.5" r="4.75"/><circle cx="1194.5" cy="938.5" r="4.75"/><circle cx="1397.5" cy="709.5" r="4.75"/><circle cx="527.5" cy="986.5" r="4.75"/><circle cx="1226.5" cy="852.5" r="4.75"/><circle cx="849.5" cy="961.5" r="4.75"/><circle cx="1276.5" cy="837.5" r="4.75"/><circle cx="600.5" cy="1038.5" r="4.75"/><circle cx="1236.5" cy="853.5" r="4.75"/><circle cx="423.5" cy="1005.5" r="4.75"/><circle cx="951.5" cy="966.5" r="4.75"/><circle cx="510.5" cy="983.5" r="4.75"/><circle cx="1056.5" cy="849.5" r="4.75"/><circle cx="1377.5" cy="702.5" r="4.75"/><circle cx="1194.5" cy="783.5" r="4.75"/><circle cx="559.5" cy="1065.5" r="4.75"/><circle cx="1348.5" cy="804.5" r="4.75"/><circle cx="1026.5" cy="962.5" r="4.75"/><circle cx="1236.5" cy="845.5" r="4.75"/><circle cx="1015.5" cy="903.5" r="4.75"/><circle cx="1318.5" cy="861.5" r="4.75"/><circle cx="1109.5" cy="826.5" r="4.75"/><circle cx="437.5" cy="984.5" r="4.75"/><circle cx="878.5" cy="932.5" r="4.75"/><circle cx="808.5" cy="942.5" r="4.75"/><circle cx="612.5" cy="1048.5" r="4.75"/><circle cx="607.5" cy="962.5" r="4.75"/><circle cx="505.5" cy="1032.5" r="4.75"/><circle cx="1431.5" cy="417.5" r="4.75"/><circle cx="724.5" cy="972.5" r="4.75"/><circle cx="1127.5" cy="847.5" r="4.75"/><circle cx="785.5" cy="1035.5" r="4.75"/><circle cx="785.5" cy="933.5" r="4.75"/><circle cx="634.5" cy="996.5" r="4.75"/><circle cx="1330.5" cy="651.5" r="4.75"/><circle cx="562.5" cy="1049.5" r="4.75"/><circle cx="849.5" cy="995.5" r="4.75"/><circle cx="1126.5" cy="917.5" r="4.75"/><circle cx="273.5" cy="1026.5" r="4.75"/><circle cx="1386.5" cy="548.5" r="4.75"/><circle cx="182.5" cy="1025.5" r="4.75"/><circle cx="1434.5" cy="271.5" r="4.75"/><circle cx="768.5" cy="1002.5" r="4.75"/><circle cx="884.5" cy="1025.5" r="4.75"/><circle cx="1316.5" cy="789.5" r="4.75"/><circle cx="275.5" cy="1011.5" r="4.75"/><circle cx="713.5" cy="1086.5" r="4.75"/><circle cx="486.5" cy="1068.5" r="4.75"/><circle cx="784.5" cy="1026.5" r="4.75"/><circle cx="1260.5" cy="912.5" r="4.75"/><circle cx="572.5" cy="966.5" r="4.75"/><circle cx="1401.5" cy="724.5" r="4.75"/><circle cx="1026.5" cy="956.5" r="4.75"/><circle cx="1228.5" cy="783.5" r="4.75"/><circle cx="651.5" cy="1066.5" r="4.75"/><circle cx="1401.5" cy="679.5" r="4.75"/><circle cx="1247.5" cy="747.5" r="4.75"/><circle cx="510.5" cy="1015.5" r="4.75"/><circle cx="1166.5" cy="926.5" r="4.75"/><circle cx="572.5" cy="1083.5" r="4.75"/><circle cx="446.5" cy="1070.5" r="4.75"/><circle cx="973.5" cy="989.5" r="4.75"/><circle cx="316.5" cy="1085.5" r="4.75"/><circle cx="489.5" cy="1075.5" r="4.75"/><circle cx="1416.5" cy="419.5" r="4.75"/><circle cx="668.5" cy="1020.5" r="4.75"/><circle cx="752.5" cy="1023.5" r="4.75"/><circle cx="249.5" cy="1020.5" r="4.75"/><circle cx="1144.5" cy="828.5" r="4.75"/><circle cx="702.5" cy="1076.5" r="4.75"/><circle cx="449.5" cy="1083.5" r="4.75"/><circle cx="1130.5" cy="975.5" r="4.75"/><circle cx="986.5" cy="880.5" r="4.75"/><circle cx="343.5" cy="1011.5" r="4.75"/><circle cx="983.5" cy="962.5" r="4.75"/><circle cx="1405.5" cy="652.5" r="4.75"/><circle cx="800.5" cy="941.5" r="4.75"/><circle cx="1026.5" cy="947.5" r="4.75"/><circle cx="381.5" cy="1003.5" r="4.75"/><circle cx="1193.5" cy="806.5" r="4.75"/><circle cx="687.5" cy="1034.5" r="4.75"/><circle cx="1372.5" cy="572.5" r="4.75"/><circle cx="710.5" cy="1076.5" r="4.75"/><circle cx="1299.5" cy="780.5" r="4.75"/><circle cx="875.5" cy="970.5" r="4.75"/><circle cx="259.5" cy="1012.5" r="4.75"/><circle cx="563.5" cy="1013.5" r="4.75"/><circle cx="616.5" cy="991.5" r="4.75"/><circle cx="1209.5" cy="819.5" r="4.75"/><circle cx="1387.5" cy="707.5" r="4.75"/><circle cx="1371.5" cy="582.5" r="4.75"/><circle cx="1404.5" cy="623.5" r="4.75"/><circle cx="1235.5" cy="748.5" r="4.75"/><circle cx="978.5" cy="989.5" r="4.75"/><circle cx="1344.5" cy="682.5" r="4.75"/><circle cx="1228.5" cy="758.5" r="4.75"/><circle cx="1226.5" cy="873.5" r="4.75"/><circle cx="687.5" cy="961.5" r="4.75"/><circle cx="819.5" cy="1073.5" r="4.75"/><circle cx="1344.5" cy="823.5" r="4.75"/><circle cx="819.5" cy="1019.5" r="4.75"/><circle cx="1166.5" cy="819.5" r="4.75"/><circle cx="971.5" cy="1000.5" r="4.75"/><circle cx="1206.5" cy="803.5" r="4.75"/><circle cx="1352.5" cy="690.5" r="4.75"/><circle cx="925.5" cy="976.5" r="4.75"/><circle cx="1375.5" cy="779.5" r="4.75"/><circle cx="1413.5" cy="457.5" r="4.75"/><circle cx="1250.5" cy="845.5" r="4.75"/><circle cx="1422.5" cy="690.5" r="4.75"/><circle cx="749.5" cy="1052.5" r="4.75"/><circle cx="526.5" cy="997.5" r="4.75"/><circle cx="1244.5" cy="884.5" r="4.75"/><circle cx="1303.5" cy="906.5" r="4.75"/><circle cx="1116.5" cy="856.5" r="4.75"/><circle cx="197.5" cy="1085.5" r="4.75"/><circle cx="966.5" cy="929.5" r="4.75"/><circle cx="1129.5" cy="832.5" r="4.75"/><circle cx="161.5" cy="1024.5" r="4.75"/><circle cx="1235.5" cy="915.5" r="4.75"/><circle cx="548.5" cy="1049.5" r="4.75"/><circle cx="1207.5" cy="830.5" r="4.75"/><circle cx="1166.5" cy="889.5" r="4.75"/><circle cx="408.5" cy="1085.5" r="4.75"/><circle cx="916.5" cy="1027.5" r="4.75"/><circle cx="1403.5" cy="569.5" r="4.75"/><circle cx="367.5" cy="1085.5" r="4.75"/><circle cx="266.5" cy="1085.5" r="4.75"/><circle cx="1275.5" cy="799.5" r="4.75"/><circle cx="656.5" cy="1004.5" r="4.75"/><circle cx="1323.5" cy="840.5" r="4.75"/><circle cx="986.5" cy="900.5" r="4.75"/><circle cx="602.5" cy="1028.5" r="4.75"/><circle cx="1075.5" cy="945.5" r="4.75"/><circle cx="861.5" cy="961.5" r="4.75"/><circle cx="857.5" cy="979.5" r="4.75"/><circle cx="857.5" cy="912.5" r="4.75"/><circle cx="933.5" cy="929.5" r="4.75"/><circle cx="161.5" cy="999.5" r="4.75"/><circle cx="1317.5" cy="800.5" r="4.75"/><circle cx="784.5" cy="947.5" r="4.75"/><circle cx="556.5" cy="994.5" r="4.75"/><circle cx="985.5" cy="1024.5" r="4.75"/><circle cx="1387.5" cy="691.5" r="4.75"/><circle cx="721.5" cy="1040.5" r="4.75"/><circle cx="1276.5" cy="711.5" r="4.75"/><circle cx="836.5" cy="916.5" r="4.75"/><circle cx="1116.5" cy="978.5" r="4.75"/><circle cx="1165.5" cy="919.5" r="4.75"/><circle cx="1126.5" cy="947.5" r="4.75"/><circle cx="1414.5" cy="506.5" r="4.75"/><circle cx="1231.5" cy="787.5" r="4.75"/><circle cx="1305.5" cy="888.5" r="4.75"/><circle cx="1030.5" cy="940.5" r="4.75"/><circle cx="1286.5" cy="791.5" r="4.75"/><circle cx="1431.5" cy="343.5" r="4.75"/><circle cx="307.5" cy="987.5" r="4.75"/><circle cx="669.5" cy="1067.5" r="4.75"/><circle cx="1422.5" cy="450.5" r="4.75"/><circle cx="1060.5" cy="966.5" r="4.75"/><circle cx="1018.5" cy="975.5" r="4.75"/><circle cx="1352.5" cy="672.5" r="4.75"/><circle cx="1087.5" cy="986.5" r="4.75"/><circle cx="555.5" cy="1042.5" r="4.75"/><circle cx="629.5" cy="959.5" r="4.75"/><circle cx="1024.5" cy="862.5" r="4.75"/><circle cx="826.5" cy="920.5" r="4.75"/><circle cx="1227.5" cy="867.5" r="4.75"/><circle cx="1399.5" cy="513.5" r="4.75"/><circle cx="905.5" cy="899.5" r="4.75"/><circle cx="221.5" cy="998.5" r="4.75"/><circle cx="1261.5" cy="899.5" r="4.75"/><circle cx="1214.5" cy="880.5" r="4.75"/><circle cx="1357.5" cy="607.5" r="4.75"/><circle cx="965.5" cy="1023.5" r="4.75"/><circle cx="168.5" cy="1072.5" r="4.75"/><circle cx="467.5" cy="1024.5" r="4.75"/><circle cx="1419.5" cy="485.5" r="4.75"/><circle cx="1396.5" cy="735.5" r="4.75"/><circle cx="1317.5" cy="815.5" r="4.75"/><circle cx="444.5" cy="1059.5" r="4.75"/><circle cx="1406.5" cy="597.5" r="4.75"/><circle cx="820.5" cy="1040.5" r="4.75"/><circle cx="283.5" cy="989.5" r="4.75"/><circle cx="960.5" cy="1025.5" r="4.75"/><circle cx="1279.5" cy="844.5" r="4.75"/><circle cx="1411.5" cy="578.5" r="4.75"/><circle cx="707.5" cy="951.5" r="4.75"/><circle cx="903.5" cy="1046.5" r="4.75"/><circle cx="971.5" cy="1006.5" r="4.75"/><circle cx="513.5" cy="1075.5" r="4.75"/><circle cx="1414.5" cy="569.5" r="4.75"/><circle cx="620.5" cy="1082.5" r="4.75"/><circle cx="1153.5" cy="905.5" r="4.75"/><circle cx="1140.5" cy="858.5" r="4.75"/><circle cx="1193.5" cy="898.5" r="4.75"/><circle cx="1087.5" cy="954.5" r="4.75"/><circle cx="1334.5" cy="642.5" r="4.75"/><circle cx="937.5" cy="955.5" r="4.75"/><circle cx="612.5" cy="1079.5" r="4.75"/><circle cx="416.5" cy="1015.5" r="4.75"/><circle cx="953.5" cy="886.5" r="4.75"/><circle cx="1279.5" cy="706.5" r="4.75"/><circle cx="529.5" cy="972.5" r="4.75"/><circle cx="1016.5" cy="989.5" r="4.75"/><circle cx="1027.5" cy="980.5" r="4.75"/><circle cx="1317.5" cy="759.5" r="4.75"/><circle cx="1427.5" cy="618.5" r="4.75"/><circle cx="559.5" cy="1079.5" r="4.75"/><circle cx="1401.5" cy="734.5" r="4.75"/><circle cx="822.5" cy="1055.5" r="4.75"/><circle cx="1175.5" cy="918.5" r="4.75"/><circle cx="353.5" cy="1086.5" r="4.75"/><circle cx="672.5" cy="993.5" r="4.75"/><circle cx="1389.5" cy="646.5" r="4.75"/><circle cx="937.5" cy="970.5" r="4.75"/><circle cx="1130.5" cy="931.5" r="4.75"/><circle cx="1026.5" cy="967.5" r="4.75"/><circle cx="1129.5" cy="819.5" r="4.75"/><circle cx="938.5" cy="1026.5" r="4.75"/><circle cx="1153.5" cy="926.5" r="4.75"/><circle cx="1343.5" cy="723.5" r="4.75"/><circle cx="1143.5" cy="811.5" r="4.75"/><circle cx="652.5" cy="1051.5" r="4.75"/><circle cx="1251.5" cy="839.5" r="4.75"/><circle cx="408.5" cy="982.5" r="4.75"/><circle cx="1127.5" cy="960.5" r="4.75"/><circle cx="615.5" cy="1007.5" r="4.75"/><circle cx="849.5" cy="1033.5" r="4.75"/><circle cx="819.5" cy="1051.5" r="4.75"/><circle cx="862.5" cy="953.5" r="4.75"/><circle cx="1402.5" cy="765.5" r="4.75"/><circle cx="1256.5" cy="748.5" r="4.75"/><circle cx="1208.5" cy="836.5" r="4.75"/><circle cx="1388.5" cy="714.5" r="4.75"/><circle cx="562.5" cy="1037.5" r="4.75"/><circle cx="1412.5" cy="526.5" r="4.75"/><circle cx="172.5" cy="991.5" r="4.75"/><circle cx="1209.5" cy="814.5" r="4.75"/><circle cx="1337.5" cy="696.5" r="4.75"/><circle cx="1284.5" cy="865.5" r="4.75"/><circle cx="1425.5" cy="398.5" r="4.75"/><circle cx="448.5" cy="981.5" r="4.75"/><circle cx="1419.5" cy="465.5" r="4.75"/><circle cx="289.5" cy="990.5" r="4.75"/><circle cx="1046.5" cy="896.5" r="4.75"/><circle cx="518.5" cy="1020.5" r="4.75"/><circle cx="1385.5" cy="642.5" r="4.75"/><circle cx="1229.5" cy="748.5" r="4.75"/><circle cx="1279.5" cy="920.5" r="4.75"/><circle cx="877.5" cy="950.5" r="4.75"/><circle cx="1322.5" cy="898.5" r="4.75"/><circle cx="1414.5" cy="501.5" r="4.75"/><circle cx="590.5" cy="995.5" r="4.75"/><circle cx="706.5" cy="1059.5" r="4.75"/><circle cx="849.5" cy="981.5" r="4.75"/><circle cx="498.5" cy="1080.5" r="4.75"/><circle cx="1417.5" cy="414.5" r="4.75"/><circle cx="398.5" cy="1085.5" r="4.75"/><circle cx="555.5" cy="1009.5" r="4.75"/><circle cx="715.5" cy="1074.5" r="4.75"/><circle cx="1148.5" cy="831.5" r="4.75"/><circle cx="279.5" cy="1021.5" r="4.75"/><circle cx="327.5" cy="1018.5" r="4.75"/><circle cx="680.5" cy="1048.5" r="4.75"/><circle cx="1385.5" cy="540.5" r="4.75"/><circle cx="784.5" cy="971.5" r="4.75"/><circle cx="1301.5" cy="755.5" r="4.75"/><circle cx="1116.5" cy="911.5" r="4.75"/><circle cx="1385.5" cy="573.5" r="4.75"/><circle cx="1116.5" cy="953.5" r="4.75"/><circle cx="808.5" cy="959.5" r="4.75"/><circle cx="1004.5" cy="868.5" r="4.75"/><circle cx="1377.5" cy="763.5" r="4.75"/><circle cx="653.5" cy="1032.5" r="4.75"/><circle cx="577.5" cy="998.5" r="4.75"/><circle cx="1236.5" cy="868.5" r="4.75"/><circle cx="620.5" cy="1050.5" r="4.75"/><circle cx="1385.5" cy="554.5" r="4.75"/><circle cx="1234.5" cy="944.5" r="4.75"/><circle cx="498.5" cy="1052.5" r="4.75"/><circle cx="984.5" cy="1018.5" r="4.75"/><circle cx="1126.5" cy="883.5" r="4.75"/><circle cx="1317.5" cy="712.5" r="4.75"/><circle cx="1085.5" cy="999.5" r="4.75"/><circle cx="1420.5" cy="398.5" r="4.75"/><circle cx="891.5" cy="901.5" r="4.75"/><circle cx="1088.5" cy="942.5" r="4.75"/><circle cx="1244.5" cy="921.5" r="4.75"/><circle cx="810.5" cy="983.5" r="4.75"/><circle cx="825.5" cy="1002.5" r="4.75"/><circle cx="224.5" cy="1085.5" r="4.75"/><circle cx="1009.5" cy="869.5" r="4.75"/><circle cx="339.5" cy="1018.5" r="4.75"/><circle cx="611.5" cy="1058.5" r="4.75"/><circle cx="1427.5" cy="405.5" r="4.75"/><circle cx="1149.5" cy="860.5" r="4.75"/><circle cx="1018.5" cy="969.5" r="4.75"/><circle cx="1368.5" cy="586.5" r="4.75"/><circle cx="809.5" cy="969.5" r="4.75"/><circle cx="784.5" cy="1045.5" r="4.75"/><circle cx="458.5" cy="1043.5" r="4.75"/><circle cx="1411.5" cy="539.5" r="4.75"/><circle cx="983.5" cy="980.5" r="4.75"/><circle cx="1240.5" cy="748.5" r="4.75"/><circle cx="1125.5" cy="926.5" r="4.75"/><circle cx="651.5" cy="1061.5" r="4.75"/><circle cx="1072.5" cy="844.5" r="4.75"/><circle cx="1042.5" cy="1010.5" r="4.75"/><circle cx="699.5" cy="1033.5" r="4.75"/><circle cx="1305.5" cy="745.5" r="4.75"/><circle cx="696.5" cy="955.5" r="4.75"/><circle cx="529.5" cy="1057.5" r="4.75"/><circle cx="1089.5" cy="836.5" r="4.75"/><circle cx="635.5" cy="1060.5" r="4.75"/><circle cx="952.5" cy="996.5" r="4.75"/><circle cx="162.5" cy="991.5" r="4.75"/><circle cx="601.5" cy="1059.5" r="4.75"/><circle cx="178.5" cy="1030.5" r="4.75"/><circle cx="1053.5" cy="882.5" r="4.75"/><circle cx="545.5" cy="971.5" r="4.75"/><circle cx="939.5" cy="962.5" r="4.75"/><circle cx="930.5" cy="890.5" r="4.75"/><circle cx="1260.5" cy="879.5" r="4.75"/><circle cx="326.5" cy="1012.5" r="4.75"/><circle cx="1011.5" cy="892.5" r="4.75"/><circle cx="984.5" cy="946.5" r="4.75"/><circle cx="859.5" cy="1003.5" r="4.75"/><circle cx="825.5" cy="951.5" r="4.75"/><circle cx="908.5" cy="910.5" r="4.75"/><circle cx="810.5" cy="947.5" r="4.75"/><circle cx="970.5" cy="934.5" r="4.75"/><circle cx="1095.5" cy="958.5" r="4.75"/><circle cx="954.5" cy="945.5" r="4.75"/><circle cx="1400.5" cy="541.5" r="4.75"/><circle cx="1211.5" cy="887.5" r="4.75"/><circle cx="1233.5" cy="899.5" r="4.75"/><circle cx="859.5" cy="996.5" r="4.75"/><circle cx="925.5" cy="963.5" r="4.75"/><circle cx="553.5" cy="970.5" r="4.75"/><circle cx="1404.5" cy="497.5" r="4.75"/><circle cx="1427.5" cy="587.5" r="4.75"/><circle cx="1333.5" cy="848.5" r="4.75"/><circle cx="735.5" cy="1062.5" r="4.75"/><circle cx="934.5" cy="921.5" r="4.75"/><circle cx="1179.5" cy="938.5" r="4.75"/><circle cx="1306.5" cy="823.5" r="4.75"/><circle cx="1260.5" cy="891.5" r="4.75"/><circle cx="1305.5" cy="730.5" r="4.75"/><circle cx="380.5" cy="1017.5" r="4.75"/><circle cx="857.5" cy="974.5" r="4.75"/><circle cx="876.5" cy="993.5" r="4.75"/><circle cx="258.5" cy="994.5" r="4.75"/><circle cx="1165.5" cy="897.5" r="4.75"/><circle cx="388.5" cy="1008.5" r="4.75"/><circle cx="1003.5" cy="910.5" r="4.75"/><circle cx="1352.5" cy="656.5" r="4.75"/><circle cx="1064.5" cy="846.5" r="4.75"/><circle cx="1183.5" cy="814.5" r="4.75"/><circle cx="1352.5" cy="723.5" r="4.75"/><circle cx="864.5" cy="931.5" r="4.75"/><circle cx="1422.5" cy="659.5" r="4.75"/><circle cx="648.5" cy="1001.5" r="4.75"/><circle cx="1062.5" cy="944.5" r="4.75"/><circle cx="360.5" cy="986.5" r="4.75"/><circle cx="708.5" cy="1086.5" r="4.75"/><circle cx="1317.5" cy="690.5" r="4.75"/><circle cx="672.5" cy="1060.5" r="4.75"/><circle cx="971.5" cy="994.5" r="4.75"/><circle cx="903.5" cy="924.5" r="4.75"/><circle cx="526.5" cy="1009.5" r="4.75"/><circle cx="213.5" cy="1086.5" r="4.75"/><circle cx="617.5" cy="997.5" r="4.75"/><circle cx="986.5" cy="923.5" r="4.75"/><circle cx="1413.5" cy="607.5" r="4.75"/><circle cx="218.5" cy="1085.5" r="4.75"/><circle cx="1160.5" cy="793.5" r="4.75"/><circle cx="1276.5" cy="761.5" r="4.75"/><circle cx="1365.5" cy="590.5" r="4.75"/><circle cx="957.5" cy="955.5" r="4.75"/><circle cx="1236.5" cy="879.5" r="4.75"/><circle cx="822.5" cy="1081.5" r="4.75"/><circle cx="585.5" cy="992.5" r="4.75"/><circle cx="875.5" cy="985.5" r="4.75"/><circle cx="1207.5" cy="770.5" r="4.75"/><circle cx="1166.5" cy="936.5" r="4.75"/><circle cx="1182.5" cy="946.5" r="4.75"/><circle cx="1115.5" cy="866.5" r="4.75"/><circle cx="1306.5" cy="702.5" r="4.75"/><circle cx="620.5" cy="1045.5" r="4.75"/><circle cx="1244.5" cy="908.5" r="4.75"/><circle cx="1430.5" cy="388.5" r="4.75"/><circle cx="1420.5" cy="389.5" r="4.75"/><circle cx="975.5" cy="875.5" r="4.75"/><circle cx="1244.5" cy="767.5" r="4.75"/><circle cx="961.5" cy="941.5" r="4.75"/><circle cx="1405.5" cy="674.5" r="4.75"/><circle cx="448.5" cy="1078.5" r="4.75"/><circle cx="1317.5" cy="732.5" r="4.75"/><circle cx="1305.5" cy="709.5" r="4.75"/><circle cx="1144.5" cy="820.5" r="4.75"/><circle cx="1153.5" cy="893.5" r="4.75"/><circle cx="966.5" cy="1018.5" r="4.75"/><circle cx="1389.5" cy="593.5" r="4.75"/><circle cx="434.5" cy="988.5" r="4.75"/><circle cx="611.5" cy="1034.5" r="4.75"/><circle cx="588.5" cy="1085.5" r="4.75"/><circle cx="666.5" cy="1079.5" r="4.75"/><circle cx="1331.5" cy="814.5" r="4.75"/><circle cx="1363.5" cy="595.5" r="4.75"/><circle cx="1306.5" cy="847.5" r="4.75"/><circle cx="858.5" cy="933.5" r="4.75"/><circle cx="1001.5" cy="974.5" r="4.75"/><circle cx="1363.5" cy="653.5" r="4.75"/><circle cx="526.5" cy="977.5" r="4.75"/><circle cx="205.5" cy="1005.5" r="4.75"/><circle cx="1419.5" cy="477.5" r="4.75"/><circle cx="1041.5" cy="852.5" r="4.75"/><circle cx="833.5" cy="1035.5" r="4.75"/><circle cx="813.5" cy="921.5" r="4.75"/><circle cx="1306.5" cy="855.5" r="4.75"/><circle cx="1345.5" cy="842.5" r="4.75"/><circle cx="458.5" cy="1061.5" r="4.75"/><circle cx="516.5" cy="1054.5" r="4.75"/><circle cx="815.5" cy="936.5" r="4.75"/><circle cx="775.5" cy="991.5" r="4.75"/><circle cx="1276.5" cy="718.5" r="4.75"/><circle cx="1192.5" cy="929.5" r="4.75"/><circle cx="1130.5" cy="970.5" r="4.75"/><circle cx="1344.5" cy="736.5" r="4.75"/><circle cx="819.5" cy="921.5" r="4.75"/><circle cx="574.5" cy="1051.5" r="4.75"/><circle cx="1432.5" cy="451.5" r="4.75"/><circle cx="1019.5" cy="862.5" r="4.75"/><circle cx="1430.5" cy="488.5" r="4.75"/><circle cx="1122.5" cy="846.5" r="4.75"/><circle cx="799.5" cy="986.5" r="4.75"/><circle cx="1276.5" cy="826.5" r="4.75"/><circle cx="1401.5" cy="604.5" r="4.75"/><circle cx="849.5" cy="1000.5" r="4.75"/><circle cx="1430.5" cy="400.5" r="4.75"/><circle cx="1427.5" cy="630.5" r="4.75"/><circle cx="1262.5" cy="934.5" r="4.75"/><circle cx="829.5" cy="963.5" r="4.75"/><circle cx="1245.5" cy="820.5" r="4.75"/><circle cx="647.5" cy="958.5" r="4.75"/><circle cx="1306.5" cy="832.5" r="4.75"/><circle cx="490.5" cy="1056.5" r="4.75"/><circle cx="1233.5" cy="927.5" r="4.75"/><circle cx="1275.5" cy="767.5" r="4.75"/><circle cx="848.5" cy="932.5" r="4.75"/><circle cx="1211.5" cy="873.5" r="4.75"/><circle cx="727.5" cy="1067.5" r="4.75"/><circle cx="643.5" cy="1008.5" r="4.75"/><circle cx="1282.5" cy="829.5" r="4.75"/><circle cx="1305.5" cy="878.5" r="4.75"/><circle cx="1287.5" cy="836.5" r="4.75"/><circle cx="1417.5" cy="450.5" r="4.75"/><circle cx="218.5" cy="1003.5" r="4.75"/><circle cx="261.5" cy="1086.5" r="4.75"/><circle cx="901.5" cy="1013.5" r="4.75"/><circle cx="1095.5" cy="948.5" r="4.75"/><circle cx="1165.5" cy="860.5" r="4.75"/><circle cx="419.5" cy="984.5" r="4.75"/><circle cx="1320.5" cy="827.5" r="4.75"/><circle cx="1181.5" cy="843.5" r="4.75"/><circle cx="1421.5" cy="380.5" r="4.75"/><circle cx="1194.5" cy="818.5" r="4.75"/><circle cx="1049.5" cy="967.5" r="4.75"/><circle cx="858.5" cy="987.5" r="4.75"/><circle cx="1348.5" cy="795.5" r="4.75"/><circle cx="860.5" cy="1027.5" r="4.75"/><circle cx="161.5" cy="1012.5" r="4.75"/><circle cx="353.5" cy="1023.5" r="4.75"/><circle cx="169.5" cy="1028.5" r="4.75"/><circle cx="1148.5" cy="836.5" r="4.75"/><circle cx="1318.5" cy="889.5" r="4.75"/><circle cx="498.5" cy="1072.5" r="4.75"/><circle cx="1262.5" cy="874.5" r="4.75"/><circle cx="1193.5" cy="832.5" r="4.75"/><circle cx="1175.5" cy="857.5" r="4.75"/><circle cx="1229.5" cy="777.5" r="4.75"/><circle cx="1435.5" cy="213.5" r="4.75"/><circle cx="875.5" cy="1038.5" r="4.75"/><circle cx="313.5" cy="1018.5" r="4.75"/><circle cx="459.5" cy="1078.5" r="4.75"/><circle cx="1295.5" cy="890.5" r="4.75"/><circle cx="1385.5" cy="603.5" r="4.75"/><circle cx="1395.5" cy="690.5" r="4.75"/><circle cx="1208.5" cy="796.5" r="4.75"/><circle cx="1362.5" cy="683.5" r="4.75"/><circle cx="1115.5" cy="894.5" r="4.75"/><circle cx="1251.5" cy="830.5" r="4.75"/><circle cx="387.5" cy="1086.5" r="4.75"/><circle cx="1372.5" cy="577.5" r="4.75"/><circle cx="884.5" cy="1035.5" r="4.75"/><circle cx="505.5" cy="1019.5" r="4.75"/><circle cx="687.5" cy="1050.5" r="4.75"/><circle cx="1341.5" cy="705.5" r="4.75"/><circle cx="957.5" cy="880.5" r="4.75"/><circle cx="723.5" cy="977.5" r="4.75"/><circle cx="499.5" cy="1004.5" r="4.75"/><circle cx="1361.5" cy="630.5" r="4.75"/><circle cx="1247.5" cy="741.5" r="4.75"/><circle cx="1230.5" cy="772.5" r="4.75"/><circle cx="1194.5" cy="882.5" r="4.75"/><circle cx="1171.5" cy="808.5" r="4.75"/><circle cx="799.5" cy="1021.5" r="4.75"/><circle cx="1403.5" cy="793.5" r="4.75"/><circle cx="1262.5" cy="921.5" r="4.75"/><circle cx="1050.5" cy="900.5" r="4.75"/><circle cx="1244.5" cy="838.5" r="4.75"/><circle cx="424.5" cy="1014.5" r="4.75"/><circle cx="1143.5" cy="838.5" r="4.75"/><circle cx="455.5" cy="978.5" r="4.75"/><circle cx="1244.5" cy="930.5" r="4.75"/><circle cx="768.5" cy="937.5" r="4.75"/><circle cx="325.5" cy="983.5" r="4.75"/><circle cx="824.5" cy="969.5" r="4.75"/><circle cx="1077.5" cy="843.5" r="4.75"/><circle cx="160.5" cy="1042.5" r="4.75"/><circle cx="1226.5" cy="826.5" r="4.75"/><circle cx="595.5" cy="991.5" r="4.75"/><circle cx="1212.5" cy="941.5" r="4.75"/><circle cx="375.5" cy="980.5" r="4.75"/><circle cx="886.5" cy="984.5" r="4.75"/><circle cx="1258.5" cy="754.5" r="4.75"/><circle cx="937.5" cy="987.5" r="4.75"/><circle cx="513.5" cy="1004.5" r="4.75"/><circle cx="1405.5" cy="690.5" r="4.75"/><circle cx="1229.5" cy="795.5" r="4.75"/><circle cx="225.5" cy="993.5" r="4.75"/><circle cx="797.5" cy="1049.5" r="4.75"/><circle cx="1301.5" cy="911.5" r="4.75"/><circle cx="1434.5" cy="295.5" r="4.75"/><circle cx="921.5" cy="917.5" r="4.75"/><circle cx="1345.5" cy="818.5" r="4.75"/><circle cx="1414.5" cy="701.5" r="4.75"/><circle cx="465.5" cy="975.5" r="4.75"/><circle cx="795.5" cy="1078.5" r="4.75"/><circle cx="1297.5" cy="820.5" r="4.75"/><circle cx="819.5" cy="1046.5" r="4.75"/><circle cx="415.5" cy="1086.5" r="4.75"/><circle cx="1191.5" cy="769.5" r="4.75"/><circle cx="939.5" cy="992.5" r="4.75"/><circle cx="1096.5" cy="968.5" r="4.75"/><circle cx="1115.5" cy="943.5" r="4.75"/><circle cx="440.5" cy="980.5" r="4.75"/><circle cx="404.5" cy="1019.5" r="4.75"/><circle cx="1376.5" cy="820.5" r="4.75"/><circle cx="1001.5" cy="919.5" r="4.75"/><circle cx="857.5" cy="917.5" r="4.75"/><circle cx="1293.5" cy="812.5" r="4.75"/><circle cx="1007.5" cy="976.5" r="4.75"/><circle cx="1316.5" cy="824.5" r="4.75"/><circle cx="1151.5" cy="827.5" r="4.75"/><circle cx="1176.5" cy="899.5" r="4.75"/><circle cx="687.5" cy="1014.5" r="4.75"/><circle cx="1375.5" cy="620.5" r="4.75"/><circle cx="1275.5" cy="818.5" r="4.75"/><circle cx="1057.5" cy="940.5" r="4.75"/><circle cx="1160.5" cy="803.5" r="4.75"/><circle cx="538.5" cy="1086.5" r="4.75"/><circle cx="1383.5" cy="565.5" r="4.75"/><circle cx="1252.5" cy="814.5" r="4.75"/><circle cx="656.5" cy="997.5" r="4.75"/><circle cx="1430.5" cy="695.5" r="4.75"/><circle cx="606.5" cy="998.5" r="4.75"/><circle cx="795.5" cy="928.5" r="4.75"/><circle cx="636.5" cy="1008.5" r="4.75"/><circle cx="1365.5" cy="637.5" r="4.75"/><circle cx="1368.5" cy="669.5" r="4.75"/><circle cx="963.5" cy="996.5" r="4.75"/><circle cx="1431.5" cy="380.5" r="4.75"/><circle cx="1388.5" cy="728.5" r="4.75"/><circle cx="799.5" cy="967.5" r="4.75"/><circle cx="406.5" cy="1007.5" r="4.75"/><circle cx="641.5" cy="955.5" r="4.75"/><circle cx="1387.5" cy="748.5" r="4.75"/><circle cx="886.5" cy="1005.5" r="4.75"/><circle cx="1016.5" cy="1024.5" r="4.75"/><circle cx="1233.5" cy="905.5" r="4.75"/><circle cx="330.5" cy="1085.5" r="4.75"/><circle cx="784.5" cy="1019.5" r="4.75"/><circle cx="1358.5" cy="671.5" r="4.75"/><circle cx="1396.5" cy="522.5" r="4.75"/><circle cx="750.5" cy="1034.5" r="4.75"/><circle cx="1061.5" cy="953.5" r="4.75"/><circle cx="1193.5" cy="947.5" r="4.75"/><circle cx="610.5" cy="1028.5" r="4.75"/><circle cx="735.5" cy="1051.5" r="4.75"/><circle cx="1194.5" cy="913.5" r="4.75"/><circle cx="1115.5" cy="967.5" r="4.75"/><circle cx="1115.5" cy="924.5" r="4.75"/><circle cx="1115.5" cy="878.5" r="4.75"/><circle cx="933.5" cy="940.5" r="4.75"/><circle cx="1406.5" cy="720.5" r="4.75"/><circle cx="721.5" cy="967.5" r="4.75"/><circle cx="1317.5" cy="739.5" r="4.75"/><circle cx="500.5" cy="1018.5" r="4.75"/><circle cx="1306.5" cy="805.5" r="4.75"/><circle cx="1422.5" cy="430.5" r="4.75"/><circle cx="984.5" cy="940.5" r="4.75"/><circle cx="951.5" cy="986.5" r="4.75"/><circle cx="1363.5" cy="789.5" r="4.75"/><circle cx="376.5" cy="1005.5" r="4.75"/><circle cx="1385.5" cy="584.5" r="4.75"/><circle cx="1416.5" cy="696.5" r="4.75"/><circle cx="530.5" cy="1077.5" r="4.75"/><circle cx="1305.5" cy="918.5" r="4.75"/><circle cx="1004.5" cy="1023.5" r="4.75"/><circle cx="1245.5" cy="772.5" r="4.75"/><circle cx="573.5" cy="1077.5" r="4.75"/><circle cx="1280.5" cy="895.5" r="4.75"/><circle cx="1233.5" cy="893.5" r="4.75"/><circle cx="1405.5" cy="487.5" r="4.75"/><circle cx="1281.5" cy="754.5" r="4.75"/><circle cx="235.5" cy="996.5" r="4.75"/><circle cx="1332.5" cy="826.5" r="4.75"/><circle cx="874.5" cy="1055.5" r="4.75"/><circle cx="219.5" cy="1025.5" r="4.75"/><circle cx="388.5" cy="983.5" r="4.75"/><circle cx="1250.5" cy="866.5" r="4.75"/><circle cx="1115.5" cy="986.5" r="4.75"/><circle cx="520.5" cy="1031.5" r="4.75"/><circle cx="601.5" cy="1074.5" r="4.75"/><circle cx="919.5" cy="926.5" r="4.75"/><circle cx="1353.5" cy="641.5" r="4.75"/><circle cx="1426.5" cy="343.5" r="4.75"/><circle cx="582.5" cy="1086.5" r="4.75"/><circle cx="1129.5" cy="907.5" r="4.75"/><circle cx="1166.5" cy="905.5" r="4.75"/><circle cx="393.5" cy="980.5" r="4.75"/><circle cx="862.5" cy="979.5" r="4.75"/><circle cx="823.5" cy="1011.5" r="4.75"/><circle cx="1250.5" cy="825.5" r="4.75"/><circle cx="1192.5" cy="952.5" r="4.75"/><circle cx="709.5" cy="976.5" r="4.75"/><circle cx="383.5" cy="984.5" r="4.75"/><circle cx="1182.5" cy="956.5" r="4.75"/><circle cx="1280.5" cy="911.5" r="4.75"/><circle cx="1001.5" cy="884.5" r="4.75"/><circle cx="549.5" cy="1084.5" r="4.75"/><circle cx="857.5" cy="951.5" r="4.75"/><circle cx="1275.5" cy="752.5" r="4.75"/><circle cx="1168.5" cy="835.5" r="4.75"/><circle cx="620.5" cy="1077.5" r="4.75"/><circle cx="957.5" cy="927.5" r="4.75"/><circle cx="1194.5" cy="923.5" r="4.75"/><circle cx="616.5" cy="964.5" r="4.75"/><circle cx="828.5" cy="1034.5" r="4.75"/><circle cx="1424.5" cy="564.5" r="4.75"/><circle cx="1327.5" cy="728.5" r="4.75"/><circle cx="571.5" cy="1025.5" r="4.75"/><circle cx="596.5" cy="963.5" r="4.75"/><circle cx="857.5" cy="1048.5" r="4.75"/><circle cx="885.5" cy="903.5" r="4.75"/><circle cx="656.5" cy="992.5" r="4.75"/><circle cx="1409.5" cy="636.5" r="4.75"/><circle cx="1175.5" cy="828.5" r="4.75"/><circle cx="820.5" cy="1032.5" r="4.75"/><circle cx="1279.5" cy="904.5" r="4.75"/><circle cx="785.5" cy="998.5" r="4.75"/><circle cx="825.5" cy="974.5" r="4.75"/><circle cx="1245.5" cy="800.5" r="4.75"/><circle cx="1387.5" cy="739.5" r="4.75"/><circle cx="729.5" cy="1085.5" r="4.75"/><circle cx="338.5" cy="1010.5" r="4.75"/><circle cx="1027.5" cy="1017.5" r="4.75"/><circle cx="925.5" cy="947.5" r="4.75"/><circle cx="294.5" cy="1019.5" r="4.75"/><circle cx="883.5" cy="944.5" r="4.75"/><circle cx="1129.5" cy="938.5" r="4.75"/><circle cx="1027.5" cy="1003.5" r="4.75"/><circle cx="1331.5" cy="809.5" r="4.75"/><circle cx="161.5" cy="1062.5" r="4.75"/><circle cx="530.5" cy="1082.5" r="4.75"/><circle cx="1392.5" cy="534.5" r="4.75"/><circle cx="180.5" cy="1019.5" r="4.75"/><circle cx="633.5" cy="1086.5" r="4.75"/><circle cx="768.5" cy="960.5" r="4.75"/><circle cx="1250.5" cy="924.5" r="4.75"/><circle cx="404.5" cy="979.5" r="4.75"/><circle cx="926.5" cy="970.5" r="4.75"/><circle cx="1153.5" cy="959.5" r="4.75"/><circle cx="1276.5" cy="726.5" r="4.75"/><circle cx="606.5" cy="1025.5" r="4.75"/><circle cx="984.5" cy="989.5" r="4.75"/><circle cx="1425.5" cy="709.5" r="4.75"/><circle cx="1209.5" cy="791.5" r="4.75"/><circle cx="1345.5" cy="641.5" r="4.75"/><circle cx="512.5" cy="988.5" r="4.75"/><circle cx="514.5" cy="1049.5" r="4.75"/><circle cx="458.5" cy="1068.5" r="4.75"/><circle cx="267.5" cy="992.5" r="4.75"/><circle cx="707.5" cy="1000.5" r="4.75"/><circle cx="1352.5" cy="683.5" r="4.75"/><circle cx="1412.5" cy="740.5" r="4.75"/><circle cx="1427.5" cy="440.5" r="4.75"/><circle cx="1245.5" cy="867.5" r="4.75"/><circle cx="1377.5" cy="715.5" r="4.75"/><circle cx="1105.5" cy="973.5" r="4.75"/><circle cx="299.5" cy="990.5" r="4.75"/><circle cx="646.5" cy="1061.5" r="4.75"/><circle cx="670.5" cy="1086.5" r="4.75"/><circle cx="161.5" cy="1068.5" r="4.75"/><circle cx="735.5" cy="1085.5" r="4.75"/><circle cx="917.5" cy="898.5" r="4.75"/><circle cx="1305.5" cy="894.5" r="4.75"/><circle cx="1245.5" cy="891.5" r="4.75"/><circle cx="1213.5" cy="934.5" r="4.75"/><circle cx="1052.5" cy="949.5" r="4.75"/><circle cx="1356.5" cy="835.5" r="4.75"/><circle cx="1423.5" cy="582.5" r="4.75"/><circle cx="574.5" cy="1063.5" r="4.75"/><circle cx="683.5" cy="1056.5" r="4.75"/><circle cx="1004.5" cy="1009.5" r="4.75"/><circle cx="1001.5" cy="968.5" r="4.75"/><circle cx="1396.5" cy="741.5" r="4.75"/><circle cx="1425.5" cy="349.5" r="4.75"/><circle cx="1357.5" cy="653.5" r="4.75"/><circle cx="1353.5" cy="710.5" r="4.75"/><circle cx="857.5" cy="1031.5" r="4.75"/><circle cx="498.5" cy="1086.5" r="4.75"/><circle cx="1344.5" cy="659.5" r="4.75"/><circle cx="1130.5" cy="902.5" r="4.75"/><circle cx="890.5" cy="1047.5" r="4.75"/><circle cx="765.5" cy="1006.5" r="4.75"/><circle cx="1415.5" cy="551.5" r="4.75"/><circle cx="825.5" cy="986.5" r="4.75"/><circle cx="1041.5" cy="943.5" r="4.75"/><circle cx="291.5" cy="1085.5" r="4.75"/><circle cx="1395.5" cy="718.5" r="4.75"/><circle cx="549.5" cy="1058.5" r="4.75"/><circle cx="1294.5" cy="837.5" r="4.75"/><circle cx="656.5" cy="987.5" r="4.75"/><circle cx="1257.5" cy="761.5" r="4.75"/><circle cx="666.5" cy="1062.5" r="4.75"/><circle cx="1422.5" cy="668.5" r="4.75"/><circle cx="1275.5" cy="808.5" r="4.75"/><circle cx="562.5" cy="1056.5" r="4.75"/><circle cx="513.5" cy="1086.5" r="4.75"/><circle cx="437.5" cy="1085.5" r="4.75"/><circle cx="681.5" cy="1073.5" r="4.75"/><circle cx="1017.5" cy="994.5" r="4.75"/><circle cx="1433.5" cy="277.5" r="4.75"/><circle cx="1352.5" cy="715.5" r="4.75"/><circle cx="1321.5" cy="667.5" r="4.75"/><circle cx="236.5" cy="1028.5" r="4.75"/><circle cx="674.5" cy="1033.5" r="4.75"/><circle cx="574.5" cy="1038.5" r="4.75"/><circle cx="1083.5" cy="841.5" r="4.75"/><circle cx="1166.5" cy="847.5" r="4.75"/><circle cx="561.5" cy="1071.5" r="4.75"/><circle cx="1363.5" cy="600.5" r="4.75"/><circle cx="925.5" cy="1015.5" r="4.75"/><circle cx="1406.5" cy="471.5" r="4.75"/><circle cx="374.5" cy="1013.5" r="4.75"/><circle cx="1192.5" cy="774.5" r="4.75"/><circle cx="1416.5" cy="403.5" r="4.75"/><circle cx="1357.5" cy="854.5" r="4.75"/><circle cx="1260.5" cy="906.5" r="4.75"/><circle cx="1299.5" cy="871.5" r="4.75"/><circle cx="348.5" cy="981.5" r="4.75"/><circle cx="1306.5" cy="690.5" r="4.75"/><circle cx="550.5" cy="1043.5" r="4.75"/><circle cx="1431.5" cy="469.5" r="4.75"/><circle cx="394.5" cy="1007.5" r="4.75"/><circle cx="1214.5" cy="893.5" r="4.75"/><circle cx="283.5" cy="1085.5" r="4.75"/><circle cx="1395.5" cy="616.5" r="4.75"/><circle cx="481.5" cy="976.5" r="4.75"/><circle cx="794.5" cy="1057.5" r="4.75"/><circle cx="452.5" cy="1040.5" r="4.75"/><circle cx="751.5" cy="1016.5" r="4.75"/><circle cx="556.5" cy="1004.5" r="4.75"/><circle cx="566.5" cy="1009.5" r="4.75"/><circle cx="1007.5" cy="901.5" r="4.75"/><circle cx="1407.5" cy="575.5" r="4.75"/><circle cx="655.5" cy="1012.5" r="4.75"/><circle cx="1408.5" cy="658.5" r="4.75"/><circle cx="1364.5" cy="833.5" r="4.75"/><circle cx="877.5" cy="1022.5" r="4.75"/><circle cx="1367.5" cy="621.5" r="4.75"/><circle cx="1300.5" cy="744.5" r="4.75"/><circle cx="858.5" cy="1056.5" r="4.75"/><circle cx="1287.5" cy="854.5" r="4.75"/><circle cx="1386.5" cy="678.5" r="4.75"/><circle cx="693.5" cy="1000.5" r="4.75"/><circle cx="1375.5" cy="834.5" r="4.75"/><circle cx="1422.5" cy="595.5" r="4.75"/><circle cx="937.5" cy="911.5" r="4.75"/><circle cx="848.5" cy="956.5" r="4.75"/><circle cx="687.5" cy="1039.5" r="4.75"/><circle cx="1388.5" cy="826.5" r="4.75"/><circle cx="499.5" cy="985.5" r="4.75"/><circle cx="958.5" cy="1017.5" r="4.75"/><circle cx="831.5" cy="918.5" r="4.75"/><circle cx="958.5" cy="1002.5" r="4.75"/><circle cx="985.5" cy="874.5" r="4.75"/><circle cx="701.5" cy="952.5" r="4.75"/><circle cx="1000.5" cy="951.5" r="4.75"/><circle cx="1306.5" cy="755.5" r="4.75"/><circle cx="962.5" cy="926.5" r="4.75"/><circle cx="1300.5" cy="828.5" r="4.75"/><circle cx="698.5" cy="1038.5" r="4.75"/><circle cx="848.5" cy="1005.5" r="4.75"/><circle cx="1250.5" cy="871.5" r="4.75"/><circle cx="785.5" cy="980.5" r="4.75"/><circle cx="1431.5" cy="364.5" r="4.75"/><circle cx="841.5" cy="1037.5" r="4.75"/><circle cx="1251.5" cy="942.5" r="4.75"/><circle cx="1194.5" cy="846.5" r="4.75"/><circle cx="1175.5" cy="783.5" r="4.75"/><circle cx="1275.5" cy="789.5" r="4.75"/><circle cx="1134.5" cy="886.5" r="4.75"/><circle cx="1431.5" cy="337.5" r="4.75"/><circle cx="443.5" cy="1085.5" r="4.75"/><circle cx="566.5" cy="1027.5" r="4.75"/><circle cx="651.5" cy="1044.5" r="4.75"/><circle cx="170.5" cy="1021.5" r="4.75"/><circle cx="903.5" cy="914.5" r="4.75"/><circle cx="1414.5" cy="661.5" r="4.75"/><circle cx="874.5" cy="1012.5" r="4.75"/><circle cx="1327.5" cy="712.5" r="4.75"/><circle cx="1153.5" cy="798.5" r="4.75"/><circle cx="1128.5" cy="864.5" r="4.75"/><circle cx="646.5" cy="1086.5" r="4.75"/><circle cx="1295.5" cy="758.5" r="4.75"/><circle cx="1214.5" cy="847.5" r="4.75"/><circle cx="686.5" cy="1019.5" r="4.75"/><circle cx="751.5" cy="1068.5" r="4.75"/><circle cx="711.5" cy="967.5" r="4.75"/><circle cx="1322.5" cy="730.5" r="4.75"/><circle cx="1431.5" cy="354.5" r="4.75"/><circle cx="1419.5" cy="599.5" r="4.75"/><circle cx="1014.5" cy="866.5" r="4.75"/><circle cx="949.5" cy="901.5" r="4.75"/><circle cx="1305.5" cy="779.5" r="4.75"/><circle cx="556.5" cy="979.5" r="4.75"/><circle cx="1127.5" cy="982.5" r="4.75"/><circle cx="651.5" cy="1056.5" r="4.75"/><circle cx="333.5" cy="1021.5" r="4.75"/><circle cx="1405.5" cy="701.5" r="4.75"/><circle cx="621.5" cy="1059.5" r="4.75"/><circle cx="1009.5" cy="908.5" r="4.75"/><circle cx="1180.5" cy="784.5" r="4.75"/><circle cx="1170.5" cy="825.5" r="4.75"/><circle cx="458.5" cy="1085.5" r="4.75"/><circle cx="829.5" cy="956.5" r="4.75"/><circle cx="1235.5" cy="827.5" r="4.75"/><circle cx="724.5" cy="1035.5" r="4.75"/><circle cx="785.5" cy="1050.5" r="4.75"/><circle cx="1207.5" cy="776.5" r="4.75"/><circle cx="601.5" cy="1033.5" r="4.75"/><circle cx="1331.5" cy="858.5" r="4.75"/><circle cx="1298.5" cy="785.5" r="4.75"/><circle cx="1172.5" cy="849.5" r="4.75"/><circle cx="354.5" cy="1010.5" r="4.75"/><circle cx="608.5" cy="980.5" r="4.75"/><circle cx="1352.5" cy="665.5" r="4.75"/><circle cx="499.5" cy="997.5" r="4.75"/><circle cx="1344.5" cy="649.5" r="4.75"/><circle cx="1046.5" cy="852.5" r="4.75"/><circle cx="426.5" cy="985.5" r="4.75"/><circle cx="342.5" cy="1085.5" r="4.75"/><circle cx="886.5" cy="1051.5" r="4.75"/><circle cx="325.5" cy="1085.5" r="4.75"/><circle cx="703.5" cy="1086.5" r="4.75"/><circle cx="809.5" cy="977.5" r="4.75"/><circle cx="1317.5" cy="747.5" r="4.75"/><circle cx="650.5" cy="1074.5" r="4.75"/><circle cx="212.5" cy="1003.5" r="4.75"/><circle cx="1353.5" cy="704.5" r="4.75"/><circle cx="1353.5" cy="699.5" r="4.75"/><circle cx="1244.5" cy="805.5" r="4.75"/><circle cx="652.5" cy="961.5" r="4.75"/><circle cx="664.5" cy="956.5" r="4.75"/><circle cx="503.5" cy="1070.5" r="4.75"/><circle cx="1245.5" cy="826.5" r="4.75"/><circle cx="1191.5" cy="779.5" r="4.75"/><circle cx="939.5" cy="893.5" r="4.75"/><circle cx="1316.5" cy="705.5" r="4.75"/><circle cx="799.5" cy="961.5" r="4.75"/><circle cx="666.5" cy="1049.5" r="4.75"/><circle cx="1417.5" cy="497.5" r="4.75"/><circle cx="1209.5" cy="824.5" r="4.75"/><circle cx="1094.5" cy="943.5" r="4.75"/><circle cx="985.5" cy="1029.5" r="4.75"/><circle cx="800.5" cy="1055.5" r="4.75"/><circle cx="1392.5" cy="822.5" r="4.75"/><circle cx="887.5" cy="993.5" r="4.75"/><circle cx="1370.5" cy="693.5" r="4.75"/><circle cx="1377.5" cy="745.5" r="4.75"/><circle cx="1212.5" cy="952.5" r="4.75"/><circle cx="984.5" cy="970.5" r="4.75"/><circle cx="535.5" cy="971.5" r="4.75"/><circle cx="516.5" cy="1040.5" r="4.75"/><circle cx="1041.5" cy="987.5" r="4.75"/><circle cx="1236.5" cy="764.5" r="4.75"/><circle cx="1386.5" cy="598.5" r="4.75"/><circle cx="1227.5" cy="836.5" r="4.75"/><circle cx="403.5" cy="1086.5" r="4.75"/><circle cx="1000.5" cy="894.5" r="4.75"/><circle cx="412.5" cy="1008.5" r="4.75"/><circle cx="309.5" cy="1023.5" r="4.75"/><circle cx="984.5" cy="975.5" r="4.75"/><circle cx="183.5" cy="1085.5" r="4.75"/><circle cx="913.5" cy="1006.5" r="4.75"/><circle cx="248.5" cy="1013.5" r="4.75"/><circle cx="182.5" cy="992.5" r="4.75"/><circle cx="1305.5" cy="799.5" r="4.75"/><circle cx="1401.5" cy="629.5" r="4.75"/><circle cx="653.5" cy="1027.5" r="4.75"/><circle cx="668.5" cy="1039.5" r="4.75"/><circle cx="1417.5" cy="629.5" r="4.75"/><circle cx="681.5" cy="954.5" r="4.75"/><circle cx="1184.5" cy="927.5" r="4.75"/><circle cx="1001.5" cy="941.5" r="4.75"/><circle cx="859.5" cy="1009.5" r="4.75"/><circle cx="1292.5" cy="909.5" r="4.75"/><circle cx="840.5" cy="1054.5" r="4.75"/><circle cx="1340.5" cy="852.5" r="4.75"/><circle cx="574.5" cy="1058.5" r="4.75"/><circle cx="1041.5" cy="966.5" r="4.75"/><circle cx="1062.5" cy="959.5" r="4.75"/><circle cx="939.5" cy="1032.5" r="4.75"/><circle cx="1343.5" cy="675.5" r="4.75"/><circle cx="262.5" cy="1018.5" r="4.75"/><circle cx="485.5" cy="1086.5" r="4.75"/><circle cx="1153.5" cy="921.5" r="4.75"/><circle cx="1386.5" cy="616.5" r="4.75"/><circle cx="823.5" cy="936.5" r="4.75"/><circle cx="1379.5" cy="648.5" r="4.75"/><circle cx="1294.5" cy="767.5" r="4.75"/><circle cx="826.5" cy="941.5" r="4.75"/><circle cx="949.5" cy="913.5" r="4.75"/><circle cx="858.5" cy="1014.5" r="4.75"/><circle cx="1152.5" cy="853.5" r="4.75"/><circle cx="1001.5" cy="932.5" r="4.75"/><circle cx="849.5" cy="916.5" r="4.75"/><circle cx="1227.5" cy="842.5" r="4.75"/><circle cx="1428.5" cy="603.5" r="4.75"/><circle cx="1336.5" cy="637.5" r="4.75"/><circle cx="222.5" cy="1032.5" r="4.75"/><circle cx="937.5" cy="1000.5" r="4.75"/><circle cx="1226.5" cy="858.5" r="4.75"/><circle cx="1388.5" cy="771.5" r="4.75"/><circle cx="952.5" cy="972.5" r="4.75"/><circle cx="1234.5" cy="934.5" r="4.75"/><circle cx="795.5" cy="1086.5" r="4.75"/><circle cx="1194.5" cy="855.5" r="4.75"/><circle cx="528.5" cy="1045.5" r="4.75"/><circle cx="718.5" cy="1070.5" r="4.75"/><circle cx="1126.5" cy="896.5" r="4.75"/><circle cx="1165.5" cy="870.5" r="4.75"/><circle cx="1046.5" cy="882.5" r="4.75"/><circle cx="952.5" cy="1030.5" r="4.75"/><circle cx="800.5" cy="953.5" r="4.75"/><circle cx="1434.5" cy="319.5" r="4.75"/><circle cx="569.5" cy="970.5" r="4.75"/><circle cx="317.5" cy="986.5" r="4.75"/><circle cx="1213.5" cy="907.5" r="4.75"/><circle cx="1130.5" cy="839.5" r="4.75"/><circle cx="1153.5" cy="951.5" r="4.75"/><circle cx="1386.5" cy="629.5" r="4.75"/><circle cx="562.5" cy="1043.5" r="4.75"/><circle cx="952.5" cy="981.5" r="4.75"/><circle cx="160.5" cy="1036.5" r="4.75"/><circle cx="659.5" cy="976.5" r="4.75"/><circle cx="784.5" cy="965.5" r="4.75"/><circle cx="952.5" cy="928.5" r="4.75"/><circle cx="1347.5" cy="625.5" r="4.75"/><circle cx="499.5" cy="1009.5" r="4.75"/><circle cx="566.5" cy="997.5" r="4.75"/><circle cx="1116.5" cy="873.5" r="4.75"/><circle cx="1130.5" cy="827.5" r="4.75"/><circle cx="1244.5" cy="846.5" r="4.75"/><circle cx="363.5" cy="1016.5" r="4.75"/><circle cx="1176.5" cy="869.5" r="4.75"/><circle cx="1305.5" cy="760.5" r="4.75"/><circle cx="1412.5" cy="517.5" r="4.75"/><circle cx="914.5" cy="1039.5" r="4.75"/><circle cx="925.5" cy="990.5" r="4.75"/><circle cx="674.5" cy="1072.5" r="4.75"/><circle cx="1080.5" cy="940.5" r="4.75"/><circle cx="1281.5" cy="790.5" r="4.75"/><circle cx="799.5" cy="975.5" r="4.75"/><circle cx="161.5" cy="1019.5" r="4.75"/><circle cx="1339.5" cy="803.5" r="4.75"/><circle cx="1353.5" cy="677.5" r="4.75"/><circle cx="1193.5" cy="905.5" r="4.75"/><circle cx="1417.5" cy="409.5" r="4.75"/><circle cx="1087.5" cy="969.5" r="4.75"/><circle cx="725.5" cy="1047.5" r="4.75"/><circle cx="716.5" cy="967.5" r="4.75"/><circle cx="272.5" cy="1085.5" r="4.75"/><circle cx="871.5" cy="908.5" r="4.75"/><circle cx="368.5" cy="982.5" r="4.75"/><circle cx="1176.5" cy="886.5" r="4.75"/><circle cx="926.5" cy="1006.5" r="4.75"/><circle cx="568.5" cy="990.5" r="4.75"/><circle cx="1306.5" cy="765.5" r="4.75"/><circle cx="1423.5" cy="739.5" r="4.75"/><circle cx="1154.5" cy="806.5" r="4.75"/><circle cx="1295.5" cy="701.5" r="4.75"/><circle cx="1387.5" cy="622.5" r="4.75"/><circle cx="983.5" cy="952.5" r="4.75"/><circle cx="175.5" cy="1086.5" r="4.75"/><circle cx="574.5" cy="1044.5" r="4.75"/><circle cx="900.5" cy="919.5" r="4.75"/><circle cx="510.5" cy="978.5" r="4.75"/><circle cx="1413.5" cy="532.5" r="4.75"/><circle cx="909.5" cy="896.5" r="4.75"/><circle cx="1306.5" cy="818.5" r="4.75"/><circle cx="527.5" cy="1036.5" r="4.75"/><circle cx="785.5" cy="992.5" r="4.75"/><circle cx="591.5" cy="963.5" r="4.75"/><circle cx="540.5" cy="970.5" r="4.75"/><circle cx="926.5" cy="957.5" r="4.75"/><circle cx="1156.5" cy="849.5" r="4.75"/><circle cx="799.5" cy="980.5" r="4.75"/><circle cx="819.5" cy="1068.5" r="4.75"/><circle cx="961.5" cy="1009.5" r="4.75"/><circle cx="1409.5" cy="768.5" r="4.75"/><circle cx="513.5" cy="999.5" r="4.75"/><circle cx="601.5" cy="1064.5" r="4.75"/><circle cx="400.5" cy="1006.5" r="4.75"/><circle cx="1251.5" cy="895.5" r="4.75"/><circle cx="1143.5" cy="886.5" r="4.75"/><circle cx="1299.5" cy="895.5" r="4.75"/><circle cx="1340.5" cy="629.5" r="4.75"/><circle cx="1424.5" cy="639.5" r="4.75"/><circle cx="1116.5" cy="861.5" r="4.75"/><circle cx="1422.5" cy="445.5" r="4.75"/><circle cx="799.5" cy="947.5" r="4.75"/><circle cx="686.5" cy="1076.5" r="4.75"/><circle cx="1344.5" cy="729.5" r="4.75"/><circle cx="1421.5" cy="676.5" r="4.75"/><circle cx="1245.5" cy="856.5" r="4.75"/><circle cx="1343.5" cy="717.5" r="4.75"/><circle cx="666.5" cy="1072.5" r="4.75"/><circle cx="1378.5" cy="710.5" r="4.75"/><circle cx="1001.5" cy="946.5" r="4.75"/><circle cx="1261.5" cy="927.5" r="4.75"/><circle cx="1127.5" cy="965.5" r="4.75"/><circle cx="611.5" cy="1071.5" r="4.75"/><circle cx="776.5" cy="996.5" r="4.75"/><circle cx="825.5" cy="995.5" r="4.75"/><circle cx="530.5" cy="1066.5" r="4.75"/><circle cx="1172.5" cy="814.5" r="4.75"/><circle cx="848.5" cy="940.5" r="4.75"/><circle cx="886.5" cy="1011.5" r="4.75"/><circle cx="548.5" cy="1068.5" r="4.75"/><circle cx="349.5" cy="1010.5" r="4.75"/><circle cx="956.5" cy="965.5" r="4.75"/><circle cx="1158.5" cy="924.5" r="4.75"/><circle cx="862.5" cy="946.5" r="4.75"/><circle cx="1368.5" cy="791.5" r="4.75"/><circle cx="972.5" cy="1011.5" r="4.75"/><circle cx="1317.5" cy="848.5" r="4.75"/><circle cx="1125.5" cy="904.5" r="4.75"/><circle cx="785.5" cy="939.5" r="4.75"/><circle cx="177.5" cy="990.5" r="4.75"/><circle cx="984.5" cy="1003.5" r="4.75"/><circle cx="1227.5" cy="831.5" r="4.75"/><circle cx="465.5" cy="1085.5" r="4.75"/><circle cx="305.5" cy="1010.5" r="4.75"/><circle cx="740.5" cy="1035.5" r="4.75"/><circle cx="1428.5" cy="635.5" r="4.75"/><circle cx="1291.5" cy="741.5" r="4.75"/><circle cx="935.5" cy="890.5" r="4.75"/><circle cx="698.5" cy="1020.5" r="4.75"/><circle cx="1075.5" cy="994.5" r="4.75"/><circle cx="556.5" cy="986.5" r="4.75"/><circle cx="1393.5" cy="678.5" r="4.75"/><circle cx="1428.5" cy="558.5" r="4.75"/><circle cx="848.5" cy="986.5" r="4.75"/><circle cx="574.5" cy="1029.5" r="4.75"/><circle cx="462.5" cy="1019.5" r="4.75"/><circle cx="795.5" cy="1063.5" r="4.75"/><circle cx="1431.5" cy="349.5" r="4.75"/><circle cx="413.5" cy="983.5" r="4.75"/><circle cx="641.5" cy="1058.5" r="4.75"/><circle cx="1434.5" cy="313.5" r="4.75"/><circle cx="1323.5" cy="871.5" r="4.75"/><circle cx="1295.5" cy="864.5" r="4.75"/><circle cx="1276.5" cy="865.5" r="4.75"/><circle cx="1193.5" cy="892.5" r="4.75"/><circle cx="523.5" cy="1019.5" r="4.75"/><circle cx="1385.5" cy="578.5" r="4.75"/><circle cx="1278.5" cy="748.5" r="4.75"/><circle cx="1362.5" cy="641.5" r="4.75"/><circle cx="1257.5" cy="730.5" r="4.75"/><circle cx="1396.5" cy="789.5" r="4.75"/><circle cx="237.5" cy="1023.5" r="4.75"/><circle cx="1354.5" cy="612.5" r="4.75"/><circle cx="1110.5" cy="972.5" r="4.75"/><circle cx="1411.5" cy="716.5" r="4.75"/><circle cx="790.5" cy="931.5" r="4.75"/><circle cx="1179.5" cy="838.5" r="4.75"/><circle cx="1306.5" cy="685.5" r="4.75"/><circle cx="1263.5" cy="883.5" r="4.75"/><circle cx="674.5" cy="1049.5" r="4.75"/><circle cx="1290.5" cy="758.5" r="4.75"/><circle cx="706.5" cy="995.5" r="4.75"/><circle cx="1051.5" cy="988.5" r="4.75"/><circle cx="986.5" cy="906.5" r="4.75"/><circle cx="1426.5" cy="419.5" r="4.75"/><circle cx="1423.5" cy="424.5" r="4.75"/><circle cx="785.5" cy="987.5" r="4.75"/><circle cx="1305.5" cy="792.5" r="4.75"/><circle cx="1182.5" cy="934.5" r="4.75"/><circle cx="503.5" cy="1061.5" r="4.75"/><circle cx="719.5" cy="980.5" r="4.75"/><circle cx="1280.5" cy="862.5" r="4.75"/><circle cx="686.5" cy="1028.5" r="4.75"/><circle cx="1168.5" cy="789.5" r="4.75"/><circle cx="799.5" cy="995.5" r="4.75"/><circle cx="1423.5" cy="572.5" r="4.75"/><circle cx="1247.5" cy="759.5" r="4.75"/><circle cx="1282.5" cy="744.5" r="4.75"/><circle cx="1412.5" cy="631.5" r="4.75"/><circle cx="249.5" cy="993.5" r="4.75"/><circle cx="1158.5" cy="798.5" r="4.75"/><circle cx="420.5" cy="1085.5" r="4.75"/><circle cx="911.5" cy="1025.5" r="4.75"/><circle cx="1421.5" cy="685.5" r="4.75"/><circle cx="849.5" cy="970.5" r="4.75"/><circle cx="1343.5" cy="856.5" r="4.75"/><circle cx="1087.5" cy="948.5" r="4.75"/><circle cx="1287.5" cy="765.5" r="4.75"/><circle cx="1416.5" cy="725.5" r="4.75"/><circle cx="1126.5" cy="912.5" r="4.75"/><circle cx="1176.5" cy="874.5" r="4.75"/><circle cx="610.5" cy="1039.5" r="4.75"/><circle cx="667.5" cy="1026.5" r="4.75"/><circle cx="1305.5" cy="872.5" r="4.75"/><circle cx="1074.5" cy="975.5" r="4.75"/><circle cx="784.5" cy="1012.5" r="4.75"/><circle cx="1229.5" cy="764.5" r="4.75"/><circle cx="621.5" cy="1037.5" r="4.75"/><circle cx="984.5" cy="957.5" r="4.75"/><circle cx="601.5" cy="964.5" r="4.75"/><circle cx="347.5" cy="1085.5" r="4.75"/><circle cx="489.5" cy="1082.5" r="4.75"/><circle cx="1404.5" cy="799.5" r="4.75"/><circle cx="1331.5" cy="881.5" r="4.75"/><circle cx="1375.5" cy="657.5" r="4.75"/><circle cx="610.5" cy="1064.5" r="4.75"/><circle cx="376.5" cy="1085.5" r="4.75"/><circle cx="1051.5" cy="1009.5" r="4.75"/><circle cx="969.5" cy="879.5" r="4.75"/><circle cx="1304.5" cy="899.5" r="4.75"/><circle cx="278.5" cy="989.5" r="4.75"/><circle cx="736.5" cy="944.5" r="4.75"/><circle cx="1428.5" cy="549.5" r="4.75"/><circle cx="916.5" cy="1022.5" r="4.75"/><circle cx="1400.5" cy="504.5" r="4.75"/><circle cx="449.5" cy="1057.5" r="4.75"/><circle cx="358.5" cy="1022.5" r="4.75"/><circle cx="1235.5" cy="873.5" r="4.75"/><circle cx="161.5" cy="1005.5" r="4.75"/><circle cx="849.5" cy="922.5" r="4.75"/><circle cx="513.5" cy="1032.5" r="4.75"/><circle cx="1386.5" cy="535.5" r="4.75"/><circle cx="919.5" cy="1017.5" r="4.75"/><circle cx="849.5" cy="1014.5" r="4.75"/><circle cx="1397.5" cy="584.5" r="4.75"/><circle cx="495.5" cy="974.5" r="4.75"/><circle cx="1394.5" cy="594.5" r="4.75"/><circle cx="1154.5" cy="974.5" r="4.75"/><circle cx="1166.5" cy="914.5" r="4.75"/><circle cx="613.5" cy="978.5" r="4.75"/><circle cx="1407.5" cy="476.5" r="4.75"/><circle cx="1234.5" cy="884.5" r="4.75"/><circle cx="1002.5" cy="899.5" r="4.75"/><circle cx="799.5" cy="1067.5" r="4.75"/><circle cx="1427.5" cy="592.5" r="4.75"/><circle cx="849.5" cy="950.5" r="4.75"/><circle cx="549.5" cy="1078.5" r="4.75"/><circle cx="808.5" cy="935.5" r="4.75"/><circle cx="728.5" cy="947.5" r="4.75"/><circle cx="698.5" cy="1027.5" r="4.75"/><circle cx="881.5" cy="1049.5" r="4.75"/><circle cx="842.5" cy="914.5" r="4.75"/><circle cx="629.5" cy="1065.5" r="4.75"/><circle cx="1317.5" cy="775.5" r="4.75"/><circle cx="1431.5" cy="374.5" r="4.75"/><circle cx="1382.5" cy="625.5" r="4.75"/><circle cx="800.5" cy="1016.5" r="4.75"/><circle cx="983.5" cy="932.5" r="4.75"/><circle cx="1406.5" cy="731.5" r="4.75"/><circle cx="640.5" cy="995.5" r="4.75"/><circle cx="1395.5" cy="638.5" r="4.75"/><circle cx="1170.5" cy="856.5" r="4.75"/><circle cx="1429.5" cy="720.5" r="4.75"/><circle cx="1250.5" cy="877.5" r="4.75"/><circle cx="1317.5" cy="678.5" r="4.75"/><circle cx="1367.5" cy="687.5" r="4.75"/><circle cx="227.5" cy="1035.5" r="4.75"/><circle cx="939.5" cy="976.5" r="4.75"/><circle cx="1386.5" cy="559.5" r="4.75"/><circle cx="949.5" cy="919.5" r="4.75"/><circle cx="1391.5" cy="550.5" r="4.75"/><circle cx="907.5" cy="1006.5" r="4.75"/><circle cx="298.5" cy="1011.5" r="4.75"/><circle cx="1306.5" cy="770.5" r="4.75"/><circle cx="1284.5" cy="925.5" r="4.75"/><circle cx="1376.5" cy="846.5" r="4.75"/><circle cx="513.5" cy="1062.5" r="4.75"/><circle cx="418.5" cy="1004.5" r="4.75"/><circle cx="1430.5" cy="436.5" r="4.75"/><circle cx="1035.5" cy="853.5" r="4.75"/><circle cx="713.5" cy="1062.5" r="4.75"/><circle cx="1337.5" cy="721.5" r="4.75"/><circle cx="1253.5" cy="809.5" r="4.75"/><circle cx="1172.5" cy="939.5" r="4.75"/><circle cx="1417.5" cy="442.5" r="4.75"/><circle cx="1244.5" cy="914.5" r="4.75"/><circle cx="310.5" cy="1011.5" r="4.75"/><circle cx="1040.5" cy="971.5" r="4.75"/><circle cx="751.5" cy="1008.5" r="4.75"/><circle cx="1424.5" cy="754.5" r="4.75"/><circle cx="1352.5" cy="729.5" r="4.75"/><circle cx="687.5" cy="1086.5" r="4.75"/><circle cx="752.5" cy="1048.5" r="4.75"/><circle cx="1386.5" cy="635.5" r="4.75"/><circle cx="441.5" cy="1065.5" r="4.75"/><circle cx="1378.5" cy="695.5" r="4.75"/><circle cx="476.5" cy="1086.5" r="4.75"/><circle cx="264.5" cy="1023.5" r="4.75"/><circle cx="742.5" cy="1085.5" r="4.75"/><circle cx="1115.5" cy="906.5" r="4.75"/><circle cx="1154.5" cy="811.5" r="4.75"/><circle cx="719.5" cy="948.5" r="4.75"/><circle cx="174.5" cy="1077.5" r="4.75"/><circle cx="1381.5" cy="635.5" r="4.75"/><circle cx="1115.5" cy="934.5" r="4.75"/><circle cx="549.5" cy="1073.5" r="4.75"/><circle cx="1285.5" cy="704.5" r="4.75"/><circle cx="1331.5" cy="821.5" r="4.75"/><circle cx="1394.5" cy="546.5" r="4.75"/><circle cx="670.5" cy="1044.5" r="4.75"/><circle cx="632.5" cy="1004.5" r="4.75"/><circle cx="934.5" cy="915.5" r="4.75"/><circle cx="1317.5" cy="767.5" r="4.75"/><circle cx="1041.5" cy="951.5" r="4.75"/><circle cx="1421.5" cy="772.5" r="4.75"/><circle cx="1299.5" cy="775.5" r="4.75"/><circle cx="1388.5" cy="719.5" r="4.75"/><circle cx="1402.5" cy="776.5" r="4.75"/><circle cx="769.5" cy="949.5" r="4.75"/><circle cx="809.5" cy="929.5" r="4.75"/><circle cx="906.5" cy="928.5" r="4.75"/><circle cx="918.5" cy="1010.5" r="4.75"/><circle cx="1250.5" cy="852.5" r="4.75"/><circle cx="874.5" cy="1007.5" r="4.75"/><circle cx="1326.5" cy="827.5" r="4.75"/><circle cx="761.5" cy="1002.5" r="4.75"/><circle cx="608.5" cy="1004.5" r="4.75"/><circle cx="809.5" cy="954.5" r="4.75"/><circle cx="302.5" cy="1025.5" r="4.75"/><circle cx="312.5" cy="986.5" r="4.75"/><circle cx="499.5" cy="1058.5" r="4.75"/><circle cx="1375.5" cy="827.5" r="4.75"/><circle cx="1129.5" cy="890.5" r="4.75"/><circle cx="490.5" cy="1062.5" r="4.75"/><circle cx="1175.5" cy="905.5" r="4.75"/><circle cx="1102.5" cy="969.5" r="4.75"/><circle cx="798.5" cy="1040.5" r="4.75"/><circle cx="161.5" cy="1051.5" r="4.75"/><circle cx="638.5" cy="1072.5" r="4.75"/><circle cx="252.5" cy="1010.5" r="4.75"/><circle cx="393.5" cy="1018.5" r="4.75"/><circle cx="713.5" cy="980.5" r="4.75"/><circle cx="874.5" cy="975.5" r="4.75"/><circle cx="1357.5" cy="789.5" r="4.75"/><circle cx="1177.5" cy="811.5" r="4.75"/><circle cx="1163.5" cy="851.5" r="4.75"/><circle cx="1284.5" cy="822.5" r="4.75"/><circle cx="611.5" cy="1086.5" r="4.75"/><circle cx="1394.5" cy="806.5" r="4.75"/><circle cx="1052.5" cy="955.5" r="4.75"/><circle cx="1427.5" cy="610.5" r="4.75"/><circle cx="601.5" cy="1054.5" r="4.75"/><circle cx="600.5" cy="1002.5" r="4.75"/><circle cx="1165.5" cy="941.5" r="4.75"/><circle cx="1000.5" cy="980.5" r="4.75"/><circle cx="763.5" cy="941.5" r="4.75"/><circle cx="1001.5" cy="957.5" r="4.75"/><circle cx="937.5" cy="981.5" r="4.75"/><circle cx="1306.5" cy="737.5" r="4.75"/><circle cx="240.5" cy="995.5" r="4.75"/><circle cx="985.5" cy="917.5" r="4.75"/><circle cx="656.5" cy="958.5" r="4.75"/><circle cx="1413.5" cy="512.5" r="4.75"/><circle cx="673.5" cy="985.5" r="4.75"/><circle cx="334.5" cy="982.5" r="4.75"/><circle cx="1425.5" cy="364.5" r="4.75"/><circle cx="824.5" cy="980.5" r="4.75"/><circle cx="563.5" cy="1032.5" r="4.75"/><circle cx="1244.5" cy="903.5" r="4.75"/><circle cx="1306.5" cy="725.5" r="4.75"/><circle cx="784.5" cy="958.5" r="4.75"/><circle cx="1152.5" cy="898.5" r="4.75"/><circle cx="1298.5" cy="833.5" r="4.75"/><circle cx="1425.5" cy="393.5" r="4.75"/><circle cx="668.5" cy="1034.5" r="4.75"/><circle cx="1176.5" cy="893.5" r="4.75"/><circle cx="1125.5" cy="934.5" r="4.75"/><circle cx="1165.5" cy="881.5" r="4.75"/><circle cx="702.5" cy="992.5" r="4.75"/><circle cx="924.5" cy="895.5" r="4.75"/><circle cx="820.5" cy="1086.5" r="4.75"/><circle cx="559.5" cy="1085.5" r="4.75"/><circle cx="257.5" cy="1020.5" r="4.75"/><circle cx="1423.5" cy="546.5" r="4.75"/><circle cx="1290.5" cy="892.5" r="4.75"/><circle cx="1387.5" cy="733.5" r="4.75"/><circle cx="1364.5" cy="703.5" r="4.75"/><circle cx="1306.5" cy="696.5" r="4.75"/><circle cx="1424.5" cy="436.5" r="4.75"/><circle cx="1419.5" cy="457.5" r="4.75"/><circle cx="255.5" cy="1086.5" r="4.75"/><circle cx="1194.5" cy="789.5" r="4.75"/><circle cx="1252.5" cy="820.5" r="4.75"/><circle cx="569.5" cy="976.5" r="4.75"/><circle cx="1236.5" cy="859.5" r="4.75"/><circle cx="245.5" cy="1085.5" r="4.75"/><circle cx="1386.5" cy="610.5" r="4.75"/><circle cx="1275.5" cy="734.5" r="4.75"/><circle cx="1234.5" cy="939.5" r="4.75"/><circle cx="769.5" cy="968.5" r="4.75"/><circle cx="670.5" cy="1005.5" r="4.75"/><circle cx="486.5" cy="975.5" r="4.75"/><circle cx="616.5" cy="986.5" r="4.75"/><circle cx="1123.5" cy="816.5" r="4.75"/><circle cx="1306.5" cy="911.5" r="4.75"/><circle cx="1153.5" cy="932.5" r="4.75"/><circle cx="925.5" cy="1001.5" r="4.75"/><circle cx="498.5" cy="991.5" r="4.75"/><circle cx="1251.5" cy="931.5" r="4.75"/><circle cx="1115.5" cy="851.5" r="4.75"/><circle cx="573.5" cy="1068.5" r="4.75"/><circle cx="1236.5" cy="949.5" r="4.75"/><circle cx="1016.5" cy="1013.5" r="4.75"/><circle cx="1062.5" cy="991.5" r="4.75"/><circle cx="671.5" cy="1010.5" r="4.75"/><circle cx="1148.5" cy="812.5" r="4.75"/><circle cx="1251.5" cy="886.5" r="4.75"/><circle cx="409.5" cy="1013.5" r="4.75"/><circle cx="911.5" cy="928.5" r="4.75"/><circle cx="1004.5" cy="997.5" r="4.75"/><circle cx="555.5" cy="999.5" r="4.75"/><circle cx="1035.5" cy="940.5" r="4.75"/><circle cx="672.5" cy="999.5" r="4.75"/><circle cx="580.5" cy="994.5" r="4.75"/><circle cx="1115.5" cy="814.5" r="4.75"/><circle cx="353.5" cy="982.5" r="4.75"/><circle cx="742.5" cy="944.5" r="4.75"/><circle cx="1427.5" cy="691.5" r="4.75"/><circle cx="1430.5" cy="332.5" r="4.75"/><circle cx="1245.5" cy="833.5" r="4.75"/><circle cx="1376.5" cy="801.5" r="4.75"/><circle cx="1394.5" cy="529.5" r="4.75"/><circle cx="1245.5" cy="872.5" r="4.75"/><circle cx="1431.5" cy="359.5" r="4.75"/><circle cx="1230.5" cy="876.5" r="4.75"/><circle cx="489.5" cy="1051.5" r="4.75"/><circle cx="208.5" cy="1085.5" r="4.75"/><circle cx="798.5" cy="1082.5" r="4.75"/><circle cx="1126.5" cy="875.5" r="4.75"/><circle cx="530.5" cy="1072.5" r="4.75"/><circle cx="848.5" cy="927.5" r="4.75"/><circle cx="1344.5" cy="711.5" r="4.75"/><circle cx="1006.5" cy="985.5" r="4.75"/><circle cx="432.5" cy="1085.5" r="4.75"/><circle cx="1425.5" cy="328.5" r="4.75"/><circle cx="752.5" cy="1073.5" r="4.75"/><circle cx="1143.5" cy="833.5" r="4.75"/><circle cx="1167.5" cy="946.5" r="4.75"/><circle cx="1392.5" cy="749.5" r="4.75"/><circle cx="1055.5" cy="888.5" r="4.75"/><circle cx="952.5" cy="1001.5" r="4.75"/><circle cx="718.5" cy="1058.5" r="4.75"/><circle cx="1317.5" cy="670.5" r="4.75"/><circle cx="265.5" cy="1012.5" r="4.75"/><circle cx="514.5" cy="1070.5" r="4.75"/><circle cx="1400.5" cy="684.5" r="4.75"/><circle cx="1373.5" cy="784.5" r="4.75"/><circle cx="1279.5" cy="890.5" r="4.75"/><circle cx="1335.5" cy="714.5" r="4.75"/><circle cx="593.5" cy="1000.5" r="4.75"/><circle cx="617.5" cy="1030.5" r="4.75"/><circle cx="576.5" cy="970.5" r="4.75"/><circle cx="1412.5" cy="690.5" r="4.75"/><circle cx="1388.5" cy="702.5" r="4.75"/><circle cx="1305.5" cy="787.5" r="4.75"/><circle cx="392.5" cy="1085.5" r="4.75"/><circle cx="477.5" cy="1019.5" r="4.75"/><circle cx="526.5" cy="1004.5" r="4.75"/><circle cx="1378.5" cy="728.5" r="4.75"/><circle cx="875.5" cy="1033.5" r="4.75"/><circle cx="628.5" cy="1085.5" r="4.75"/><circle cx="1305.5" cy="860.5" r="4.75"/><circle cx="1434.5" cy="283.5" r="4.75"/><circle cx="1387.5" cy="797.5" r="4.75"/><circle cx="188.5" cy="1085.5" r="4.75"/><circle cx="577.5" cy="1086.5" r="4.75"/><circle cx="1116.5" cy="960.5" r="4.75"/><circle cx="1369.5" cy="698.5" r="4.75"/><circle cx="1326.5" cy="656.5" r="4.75"/><circle cx="1276.5" cy="832.5" r="4.75"/><circle cx="1409.5" cy="614.5" r="4.75"/><circle cx="1317.5" cy="795.5" r="4.75"/><circle cx="811.5" cy="963.5" r="4.75"/><circle cx="513.5" cy="1010.5" r="4.75"/><circle cx="729.5" cy="1033.5" r="4.75"/><circle cx="1193.5" cy="918.5" r="4.75"/><circle cx="651.5" cy="1086.5" r="4.75"/><circle cx="1331.5" cy="867.5" r="4.75"/><circle cx="1176.5" cy="912.5" r="4.75"/><circle cx="1244.5" cy="862.5" r="4.75"/><circle cx="1305.5" cy="719.5" r="4.75"/><circle cx="866.5" cy="910.5" r="4.75"/><circle cx="1006.5" cy="896.5" r="4.75"/><circle cx="1378.5" cy="734.5" r="4.75"/><circle cx="1125.5" cy="942.5" r="4.75"/><circle cx="669.5" cy="974.5" r="4.75"/><circle cx="1250.5" cy="918.5" r="4.75"/><circle cx="1406.5" cy="481.5" r="4.75"/><circle cx="1428.5" cy="567.5" r="4.75"/><circle cx="1409.5" cy="789.5" r="4.75"/><circle cx="1235.5" cy="832.5" r="4.75"/><circle cx="1046.5" cy="889.5" r="4.75"/><circle cx="280.5" cy="1016.5" r="4.75"/><circle cx="1285.5" cy="757.5" r="4.75"/><circle cx="1375.5" cy="633.5" r="4.75"/><circle cx="583.5" cy="1006.5" r="4.75"/><circle cx="1236.5" cy="909.5" r="4.75"/><circle cx="250.5" cy="1086.5" r="4.75"/><circle cx="474.5" cy="1014.5" r="4.75"/><circle cx="950.5" cy="906.5" r="4.75"/><circle cx="939.5" cy="902.5" r="4.75"/><circle cx="1378.5" cy="688.5" r="4.75"/><circle cx="310.5" cy="1086.5" r="4.75"/><circle cx="699.5" cy="1081.5" r="4.75"/><circle cx="773.5" cy="1000.5" r="4.75"/><circle cx="1193.5" cy="824.5" r="4.75"/><circle cx="1334.5" cy="727.5" r="4.75"/><circle cx="426.5" cy="1085.5" r="4.75"/><circle cx="1370.5" cy="664.5" r="4.75"/><circle cx="1284.5" cy="845.5" r="4.75"/><circle cx="1392.5" cy="624.5" r="4.75"/><circle cx="1350.5" cy="737.5" r="4.75"/><circle cx="1175.5" cy="925.5" r="4.75"/><circle cx="1073.5" cy="957.5" r="4.75"/><circle cx="586.5" cy="965.5" r="4.75"/><circle cx="763.5" cy="936.5" r="4.75"/><circle cx="1408.5" cy="648.5" r="4.75"/><circle cx="666.5" cy="1055.5" r="4.75"/><circle cx="933.5" cy="935.5" r="4.75"/><circle cx="676.5" cy="1056.5" r="4.75"/><circle cx="1426.5" cy="682.5" r="4.75"/><circle cx="1417.5" cy="432.5" r="4.75"/><circle cx="738.5" cy="1066.5" r="4.75"/><circle cx="1116.5" cy="884.5" r="4.75"/><circle cx="1031.5" cy="859.5" r="4.75"/><circle cx="986.5" cy="892.5" r="4.75"/><circle cx="954.5" cy="1041.5" r="4.75"/><circle cx="1016.5" cy="897.5" r="4.75"/><circle cx="1286.5" cy="741.5" r="4.75"/><circle cx="887.5" cy="999.5" r="4.75"/><circle cx="167.5" cy="992.5" r="4.75"/><circle cx="226.5" cy="1017.5" r="4.75"/><circle cx="738.5" cy="1047.5" r="4.75"/><circle cx="1416.5" cy="426.5" r="4.75"/><circle cx="981.5" cy="871.5" r="4.75"/><circle cx="1376.5" cy="566.5" r="4.75"/><circle cx="858.5" cy="957.5" r="4.75"/><circle cx="398.5" cy="1019.5" r="4.75"/><circle cx="1115.5" cy="929.5" r="4.75"/><circle cx="952.5" cy="1018.5" r="4.75"/><circle cx="1346.5" cy="811.5" r="4.75"/><circle cx="543.5" cy="1085.5" r="4.75"/><circle cx="533.5" cy="1086.5" r="4.75"/><circle cx="849.5" cy="1027.5" r="4.75"/><circle cx="1013.5" cy="974.5" r="4.75"/><circle cx="1428.5" cy="597.5" r="4.75"/><circle cx="985.5" cy="885.5" r="4.75"/><circle cx="896.5" cy="900.5" r="4.75"/><circle cx="1135.5" cy="858.5" r="4.75"/><circle cx="1428.5" cy="625.5" r="4.75"/><circle cx="1193.5" cy="876.5" r="4.75"/><circle cx="1377.5" cy="721.5" r="4.75"/><circle cx="459.5" cy="1073.5" r="4.75"/><circle cx="784.5" cy="952.5" r="4.75"/><circle cx="239.5" cy="1085.5" r="4.75"/><circle cx="1305.5" cy="750.5" r="4.75"/><circle cx="1245.5" cy="811.5" r="4.75"/><circle cx="528.5" cy="1051.5" r="4.75"/><circle cx="514.5" cy="1081.5" r="4.75"/><circle cx="1407.5" cy="466.5" r="4.75"/><circle cx="1432.5" cy="405.5" r="4.75"/><circle cx="1070.5" cy="941.5" r="4.75"/><circle cx="339.5" cy="983.5" r="4.75"/><circle cx="674.5" cy="978.5" r="4.75"/><circle cx="470.5" cy="1086.5" r="4.75"/><circle cx="1129.5" cy="921.5" r="4.75"/><circle cx="278.5" cy="1085.5" r="4.75"/><circle cx="1040.5" cy="998.5" r="4.75"/><circle cx="1160.5" cy="826.5" r="4.75"/><circle cx="1301.5" cy="695.5" r="4.75"/><circle cx="922.5" cy="922.5" r="4.75"/><circle cx="526.5" cy="1015.5" r="4.75"/><circle cx="708.5" cy="971.5" r="4.75"/><circle cx="160.5" cy="1031.5" r="4.75"/><circle cx="382.5" cy="1085.5" r="4.75"/><circle cx="664.5" cy="946.5" r="4.75"/><circle cx="1281.5" cy="766.5" r="4.75"/><circle cx="820.5" cy="1026.5" r="4.75"/><circle cx="1096.5" cy="963.5" r="4.75"/><circle cx="1420.5" cy="490.5" r="4.75"/><circle cx="173.5" cy="1031.5" r="4.75"/><circle cx="1344.5" cy="687.5" r="4.75"/><circle cx="230.5" cy="999.5" r="4.75"/><circle cx="1130.5" cy="926.5" r="4.75"/><circle cx="647.5" cy="1069.5" r="4.75"/><circle cx="558.5" cy="1059.5" r="4.75"/><circle cx="1343.5" cy="664.5" r="4.75"/><circle cx="857.5" cy="967.5" r="4.75"/><circle cx="925.5" cy="996.5" r="4.75"/><circle cx="558.5" cy="970.5" r="4.75"/><circle cx="1051.5" cy="850.5" r="4.75"/><circle cx="1255.5" cy="742.5" r="4.75"/><circle cx="646.5" cy="996.5" r="4.75"/><circle cx="1000.5" cy="925.5" r="4.75"/><circle cx="1275.5" cy="813.5" r="4.75"/><circle cx="653.5" cy="1022.5" r="4.75"/><circle cx="1410.5" cy="672.5" r="4.75"/><circle cx="504.5" cy="1051.5" r="4.75"/><circle cx="577.5" cy="1003.5" r="4.75"/><circle cx="1153.5" cy="910.5" r="4.75"/><circle cx="1226.5" cy="847.5" r="4.75"/><circle cx="1115.5" cy="900.5" r="4.75"/><circle cx="1358.5" cy="702.5" r="4.75"/><circle cx="621.5" cy="1065.5" r="4.75"/><circle cx="601.5" cy="991.5" r="4.75"/><circle cx="966.5" cy="1009.5" r="4.75"/><circle cx="1316.5" cy="754.5" r="4.75"/><circle cx="884.5" cy="978.5" r="4.75"/><circle cx="1185.5" cy="783.5" r="4.75"/><circle cx="1275.5" cy="859.5" r="4.75"/><circle cx="1096.5" cy="986.5" r="4.75"/><circle cx="967.5" cy="939.5" r="4.75"/><circle cx="950.5" cy="893.5" r="4.75"/><circle cx="1420.5" cy="472.5" r="4.75"/><circle cx="503.5" cy="1076.5" r="4.75"/><circle cx="769.5" cy="955.5" r="4.75"/><circle cx="503.5" cy="1086.5" r="4.75"/><circle cx="875.5" cy="961.5" r="4.75"/><circle cx="823.5" cy="1036.5" r="4.75"/><circle cx="1293.5" cy="807.5" r="4.75"/><circle cx="1431.5" cy="456.5" r="4.75"/><circle cx="697.5" cy="1012.5" r="4.75"/><circle cx="221.5" cy="1018.5" r="4.75"/><circle cx="1284.5" cy="859.5" r="4.75"/><circle cx="1054.5" cy="897.5" r="4.75"/><circle cx="698.5" cy="1043.5" r="4.75"/><circle cx="232.5" cy="1034.5" r="4.75"/><circle cx="1176.5" cy="862.5" r="4.75"/><circle cx="449.5" cy="1044.5" r="4.75"/><circle cx="1396.5" cy="746.5" r="4.75"/><circle cx="499.5" cy="980.5" r="4.75"/><circle cx="1407.5" cy="712.5" r="4.75"/><circle cx="517.5" cy="1035.5" r="4.75"/><circle cx="926.5" cy="952.5" r="4.75"/><circle cx="1262.5" cy="869.5" r="4.75"/><circle cx="1434.5" cy="289.5" r="4.75"/><circle cx="885.5" cy="1030.5" r="4.75"/><circle cx="1337.5" cy="701.5" r="4.75"/><circle cx="1166.5" cy="865.5" r="4.75"/><circle cx="458.5" cy="1054.5" r="4.75"/><circle cx="1234.5" cy="921.5" r="4.75"/><circle cx="1187.5" cy="820.5" r="4.75"/><circle cx="1333.5" cy="647.5" r="4.75"/><circle cx="1115.5" cy="973.5" r="4.75"/><circle cx="698.5" cy="1073.5" r="4.75"/><circle cx="875.5" cy="1043.5" r="4.75"/><circle cx="693.5" cy="951.5" r="4.75"/><circle cx="882.5" cy="937.5" r="4.75"/><circle cx="874.5" cy="1017.5" r="4.75"/><circle cx="800.5" cy="1062.5" r="4.75"/><circle cx="611.5" cy="1053.5" r="4.75"/><circle cx="1113.5" cy="820.5" r="4.75"/><circle cx="914.5" cy="1034.5" r="4.75"/><circle cx="1380.5" cy="653.5" r="4.75"/><circle cx="958.5" cy="997.5" r="4.75"/><circle cx="756.5" cy="1002.5" r="4.75"/><circle cx="1000.5" cy="872.5" r="4.75"/><circle cx="1184.5" cy="951.5" r="4.75"/><circle cx="335.5" cy="1085.5" r="4.75"/><circle cx="1422.5" cy="629.5" r="4.75"/><circle cx="800.5" cy="1011.5" r="4.75"/><circle cx="956.5" cy="950.5" r="4.75"/><circle cx="1364.5" cy="822.5" r="4.75"/><circle cx="1427.5" cy="644.5" r="4.75"/><circle cx="623.5" cy="1086.5" r="4.75"/><circle cx="270.5" cy="1009.5" r="4.75"/><circle cx="1380.5" cy="679.5" r="4.75"/><circle cx="399.5" cy="977.5" r="4.75"/><circle cx="1403.5" cy="492.5" r="4.75"/><circle cx="1428.5" cy="578.5" r="4.75"/><circle cx="1352.5" cy="790.5" r="4.75"/><circle cx="1244.5" cy="851.5" r="4.75"/><circle cx="729.5" cy="1054.5" r="4.75"/><circle cx="1212.5" cy="947.5" r="4.75"/><circle cx="705.5" cy="1051.5" r="4.75"/><circle cx="1149.5" cy="883.5" r="4.75"/><circle cx="858.5" cy="1042.5" r="4.75"/><circle cx="751.5" cy="1028.5" r="4.75"/><circle cx="1116.5" cy="917.5" r="4.75"/><circle cx="1366.5" cy="850.5" r="4.75"/><circle cx="497.5" cy="1045.5" r="4.75"/><circle cx="566.5" cy="1002.5" r="4.75"/><circle cx="294.5" cy="989.5" r="4.75"/><circle cx="335.5" cy="1006.5" r="4.75"/><circle cx="1193.5" cy="838.5" r="4.75"/><circle cx="548.5" cy="1063.5" r="4.75"/><circle cx="800.5" cy="1033.5" r="4.75"/><circle cx="960.5" cy="960.5" r="4.75"/><circle cx="160.5" cy="1057.5" r="4.75"/><circle cx="1180.5" cy="827.5" r="4.75"/><circle cx="1434.5" cy="301.5" r="4.75"/><circle cx="1053.5" cy="943.5" r="4.75"/><circle cx="607.5" cy="985.5" r="4.75"/><circle cx="751.5" cy="1078.5" r="4.75"/><circle cx="1115.5" cy="948.5" r="4.75"/><circle cx="1356.5" cy="686.5" r="4.75"/><circle cx="1423.5" cy="577.5" r="4.75"/><circle cx="799.5" cy="1000.5" r="4.75"/><circle cx="526.5" cy="992.5" r="4.75"/><circle cx="504.5" cy="1037.5" r="4.75"/><circle cx="1417.5" cy="688.5" r="4.75"/><circle cx="652.5" cy="1037.5" r="4.75"/><circle cx="770.5" cy="982.5" r="4.75"/><circle cx="1425.5" cy="655.5" r="4.75"/><circle cx="1021.5" cy="964.5" r="4.75"/><circle cx="952.5" cy="991.5" r="4.75"/><circle cx="1393.5" cy="713.5" r="4.75"/><circle cx="869.5" cy="930.5" r="4.75"/><circle cx="1014.5" cy="909.5" r="4.75"/><circle cx="848.5" cy="976.5" r="4.75"/><circle cx="1290.5" cy="864.5" r="4.75"/><circle cx="1334.5" cy="803.5" r="4.75"/><circle cx="294.5" cy="1014.5" r="4.75"/><circle cx="503.5" cy="1081.5" r="4.75"/><circle cx="297.5" cy="1024.5" r="4.75"/><circle cx="750.5" cy="940.5" r="4.75"/><circle cx="687.5" cy="1081.5" r="4.75"/><circle cx="1189.5" cy="925.5" r="4.75"/><circle cx="669.5" cy="1015.5" r="4.75"/><circle cx="808.5" cy="923.5" r="4.75"/><circle cx="175.5" cy="1018.5" r="4.75"/><circle cx="1161.5" cy="819.5" r="4.75"/><circle cx="1420.5" cy="367.5" r="4.75"/><circle cx="724.5" cy="1086.5" r="4.75"/><circle cx="880.5" cy="903.5" r="4.75"/><circle cx="784.5" cy="1040.5" r="4.75"/><circle cx="1363.5" cy="625.5" r="4.75"/><circle cx="1344.5" cy="654.5" r="4.75"/><circle cx="1246.5" cy="736.5" r="4.75"/><circle cx="1179.5" cy="960.5" r="4.75"/><circle cx="426.5" cy="1009.5" r="4.75"/><circle cx="745.5" cy="1033.5" r="4.75"/><circle cx="664.5" cy="975.5" r="4.75"/><circle cx="653.5" cy="1017.5" r="4.75"/><circle cx="826.5" cy="946.5" r="4.75"/><circle cx="1431.5" cy="369.5" r="4.75"/><circle cx="703.5" cy="1003.5" r="4.75"/><circle cx="953.5" cy="940.5" r="4.75"/><circle cx="1385.5" cy="590.5" r="4.75"/><circle cx="1193.5" cy="811.5" r="4.75"/><circle cx="1228.5" cy="753.5" r="4.75"/><circle cx="925.5" cy="1020.5" r="4.75"/><circle cx="1416.5" cy="603.5" r="4.75"/><circle cx="730.5" cy="1049.5" r="4.75"/><circle cx="1001.5" cy="889.5" r="4.75"/><circle cx="1388.5" cy="696.5" r="4.75"/><circle cx="1299.5" cy="877.5" r="4.75"/><circle cx="202.5" cy="1086.5" r="4.75"/><circle cx="1322.5" cy="711.5" r="4.75"/><circle cx="1299.5" cy="887.5" r="4.75"/><circle cx="1000.5" cy="963.5" r="4.75"/><circle cx="683.5" cy="1044.5" r="4.75"/><circle cx="800.5" cy="936.5" r="4.75"/><circle cx="386.5" cy="1016.5" r="4.75"/><circle cx="698.5" cy="1086.5" r="4.75"/><circle cx="1000.5" cy="914.5" r="4.75"/><circle cx="800.5" cy="925.5" r="4.75"/><circle cx="1432.5" cy="441.5" r="4.75"/><circle cx="616.5" cy="1002.5" r="4.75"/><circle cx="458.5" cy="1048.5" r="4.75"/><circle cx="624.5" cy="960.5" r="4.75"/><circle cx="1275.5" cy="794.5" r="4.75"/><circle cx="1165.5" cy="876.5" r="4.75"/><circle cx="195.5" cy="998.5" r="4.75"/><circle cx="1130.5" cy="944.5" r="4.75"/><circle cx="1423.5" cy="408.5" r="4.75"/><circle cx="687.5" cy="1071.5" r="4.75"/><circle cx="1178.5" cy="847.5" r="4.75"/><circle cx="913.5" cy="911.5" r="4.75"/><circle cx="1004.5" cy="905.5" r="4.75"/><circle cx="558.5" cy="1053.5" r="4.75"/><circle cx="600.5" cy="1069.5" r="4.75"/><circle cx="1396.5" cy="819.5" r="4.75"/><circle cx="1344.5" cy="669.5" r="4.75"/><circle cx="1194.5" cy="887.5" r="4.75"/><circle cx="1406.5" cy="618.5" r="4.75"/><circle cx="268.5" cy="1026.5" r="4.75"/><circle cx="186.5" cy="995.5" r="4.75"/><circle cx="906.5" cy="1024.5" r="4.75"/><circle cx="173.5" cy="1072.5" r="4.75"/><circle cx="939.5" cy="1021.5" r="4.75"/><circle cx="1399.5" cy="634.5" r="4.75"/><circle cx="558.5" cy="1046.5" r="4.75"/><circle cx="1263.5" cy="916.5" r="4.75"/><circle cx="730.5" cy="1063.5" r="4.75"/><circle cx="1115.5" cy="889.5" r="4.75"/><circle cx="1393.5" cy="643.5" r="4.75"/><circle cx="1241.5" cy="763.5" r="4.75"/><circle cx="1305.5" cy="883.5" r="4.75"/><circle cx="819.5" cy="1014.5" r="4.75"/><circle cx="1363.5" cy="670.5" r="4.75"/><circle cx="1296.5" cy="741.5" r="4.75"/><circle cx="262.5" cy="991.5" r="4.75"/><circle cx="1434.5" cy="266.5" r="4.75"/><circle cx="971.5" cy="1016.5" r="4.75"/><circle cx="936.5" cy="950.5" r="4.75"/><circle cx="1306.5" cy="714.5" r="4.75"/><circle cx="378.5" cy="984.5" r="4.75"/><circle cx="698.5" cy="1065.5" r="4.75"/><circle cx="1423.5" cy="559.5" r="4.75"/><circle cx="1236.5" cy="889.5" r="4.75"/><circle cx="983.5" cy="927.5" r="4.75"/><circle cx="1275.5" cy="744.5" r="4.75"/></g>
</g>
<!-- vertical state lines -->
<line x1="851.2" y1="36" x2="851.2" y2="1075" stroke="#000" stroke-width="7"/>
<line x1="1310.8" y1="36" x2="1310.8" y2="1075" stroke="#000" stroke-width="7"/>
<!-- threshold -->
<line x1="171" y1="759.5" x2="1462" y2="759.5" stroke="rgb(128,42,164)" stroke-width="7"/>
<!-- red -->
<polyline clip-path="url(#pc)" fill="none" stroke="#f00" stroke-width="5.9" stroke-linecap="round" stroke-linejoin="round" points="166.0,1039.5 169.5,1039.5 170.9,1039.5 172.5,1039.5 174.2,1039.5 176.1,1039.5 178.0,1039.6 180.0,1039.6 182.0,1039.6 184.0,1039.6 186.0,1039.6 188.0,1039.6 190.0,1039.6 192.0,1039.6 194.0,1039.6 196.0,1039.6 198.0,1039.6 200.0,1039.6 202.0,1039.6 204.0,1039.6 206.0,1039.6 208.0,1039.5 210.0,1039.5 212.0,1039.3 214.0,1039.2 216.0,1039.1 218.0,1038.9 219.9,1038.7 221.9,1038.5 223.9,1038.3 225.9,1038.1 227.9,1037.9 229.9,1037.7 231.9,1037.5 233.9,1037.3 235.9,1037.0 237.8,1036.8 239.8,1036.6 241.8,1036.3 243.8,1036.0 245.8,1035.8 247.8,1035.5 249.7,1035.2 251.7,1034.9 253.7,1034.7 255.7,1034.4 257.7,1034.1 259.6,1033.8 261.6,1033.6 263.6,1033.3 265.6,1033.0 267.6,1032.7 269.6,1032.5 271.5,1032.2 273.5,1031.9 275.5,1031.7 277.5,1031.4 279.5,1031.2 281.5,1031.0 283.4,1030.8 285.4,1030.7 287.4,1030.5 289.4,1030.4 291.4,1030.2 293.4,1030.1 295.4,1029.9 297.4,1029.8 299.4,1029.7 301.4,1029.5 303.4,1029.4 305.4,1029.3 307.4,1029.2 309.4,1029.1 311.4,1028.9 313.4,1028.8 315.4,1028.7 317.4,1028.6 319.4,1028.5 321.4,1028.4 323.4,1028.2 325.4,1028.1 327.4,1028.0 329.4,1027.9 331.3,1027.8 333.3,1027.7 335.3,1027.6 337.3,1027.5 339.3,1027.5 341.3,1027.4 343.3,1027.3 345.3,1027.2 347.3,1027.1 349.3,1027.1 351.3,1027.0 353.3,1026.9 355.3,1026.8 357.3,1026.7 359.3,1026.6 361.3,1026.6 363.3,1026.5 365.3,1026.4 367.3,1026.3 369.3,1026.2 371.3,1026.2 373.3,1026.1 375.3,1026.0 377.3,1025.9 379.3,1025.8 381.3,1025.7 383.3,1025.6 385.3,1025.6 387.3,1025.5 389.3,1025.4 391.3,1025.3 393.3,1025.2 395.3,1025.1 397.3,1025.0 399.3,1024.9 401.3,1024.8 403.3,1024.7 405.3,1024.6 407.3,1024.5 409.3,1024.4 411.3,1024.3 413.3,1024.2 415.3,1024.1 417.3,1024.0 419.3,1023.9 421.3,1023.8 423.3,1023.7 425.3,1023.6 427.3,1023.5 429.2,1023.4 431.2,1023.3 433.2,1023.2 435.2,1023.1 437.2,1023.0 439.2,1022.9 441.2,1022.8 443.2,1022.7 445.2,1022.6 447.2,1022.4 449.2,1022.3 451.2,1022.2 453.2,1022.1 455.2,1021.9 457.2,1021.8 459.2,1021.7 461.2,1021.6 463.2,1021.4 465.2,1021.3 467.2,1021.2 469.2,1021.1 471.2,1020.9 473.2,1020.8 475.2,1020.7 477.2,1020.6 479.2,1020.4 481.2,1020.3 483.2,1020.2 485.1,1020.0 487.1,1019.9 489.1,1019.8 491.1,1019.7 493.1,1019.5 495.1,1019.4 497.1,1019.3 499.1,1019.2 501.1,1019.0 503.1,1018.9 505.1,1018.8 507.1,1018.6 509.1,1018.5 511.1,1018.3 513.1,1018.2 515.1,1018.0 517.1,1017.9 519.1,1017.7 521.1,1017.6 523.1,1017.4 525.0,1017.2 527.0,1017.1 529.0,1016.9 531.0,1016.7 533.0,1016.6 535.0,1016.4 537.0,1016.2 539.0,1016.0 541.0,1015.8 543.0,1015.6 545.0,1015.4 546.9,1015.2 548.9,1015.0 550.9,1014.8 552.9,1014.5 554.9,1014.3 556.9,1014.1 558.9,1013.9 560.9,1013.6 562.8,1013.4 564.8,1013.1 566.8,1012.8 568.8,1012.5 570.8,1012.3 572.7,1012.0 574.7,1011.7 576.7,1011.4 578.7,1011.2 580.7,1010.9 582.6,1010.6 584.6,1010.3 586.6,1010.0 588.6,1009.8 590.6,1009.5 592.6,1009.2 594.5,1008.9 596.5,1008.6 598.5,1008.4 600.5,1008.1 602.5,1007.8 604.4,1007.5 606.4,1007.2 608.4,1006.9 610.4,1006.7 612.4,1006.4 614.3,1006.1 616.3,1005.8 618.3,1005.5 620.3,1005.2 622.3,1005.0 624.2,1004.7 626.2,1004.4 628.2,1004.1 630.2,1003.8 632.1,1003.5 634.1,1003.2 636.1,1002.9 638.1,1002.7 640.1,1002.4 642.0,1002.1 644.0,1001.7 646.0,1001.4 648.0,1001.1 649.9,1000.8 651.9,1000.5 653.9,1000.2 655.9,999.9 657.8,999.6 659.8,999.3 661.8,999.0 663.8,998.7 665.8,998.4 667.7,998.1 669.7,997.8 671.7,997.6 673.7,997.3 675.7,997.0 677.6,996.7 679.6,996.5 681.6,996.2 683.6,995.9 685.6,995.6 687.5,995.3 689.5,995.1 691.5,994.8 693.5,994.5 695.5,994.2 697.5,994.0 699.4,993.7 701.4,993.5 703.4,993.2 705.4,993.0 707.4,992.7 709.4,992.5 711.3,992.2 713.3,992.0 715.3,991.8 717.3,991.5 719.3,991.3 721.3,991.0 723.3,990.8 725.2,990.5 727.2,990.3 729.2,990.0 731.2,989.8 733.2,989.5 735.1,989.2 737.1,988.9 739.1,988.6 741.1,988.3 743.0,988.0 745.0,987.6 747.0,987.3 749.0,986.9 750.9,986.6 752.9,986.2 754.8,985.8 756.8,985.4 758.8,985.0 760.7,984.6 762.7,984.1 764.6,983.7 766.6,983.3 768.5,982.9 770.5,982.4 772.4,982.0 774.4,981.6 776.4,981.2 778.3,980.7 780.3,980.3 782.2,979.9 784.2,979.5 786.1,979.1 788.1,978.7 790.1,978.3 792.0,977.9 794.0,977.6 796.0,977.2 797.9,976.9 799.9,976.5 801.9,976.2 803.8,975.8 805.8,975.4 807.7,975.0 809.7,974.6 811.6,974.2 813.6,973.7 815.5,973.2 817.5,972.7 819.4,972.2 821.3,971.7 823.3,971.1 825.2,970.6 827.1,970.1 829.1,969.6 831.0,969.1 832.9,968.6 834.8,968.1 836.8,967.5 838.7,967.0 840.6,966.4 842.5,965.7 844.4,965.1 846.2,964.4 848.1,963.7 850.0,963.0 851.8,962.3 853.7,961.6 855.6,961.0 857.5,960.4 859.4,959.9 861.4,959.3 863.3,958.8 865.2,958.4 867.2,957.9 869.1,957.4 871.1,957.0 873.0,956.5 875.0,956.1 876.9,955.6 878.9,955.2 880.8,954.8 882.8,954.4 884.7,954.0 886.7,953.6 888.7,953.2 890.6,952.8 892.6,952.4 894.6,952.0 896.5,951.7 898.5,951.3 900.5,951.0 902.4,950.6 904.4,950.3 906.4,950.0 908.3,949.6 910.3,949.3 912.3,949.0 914.3,948.7 916.2,948.4 918.2,948.0 920.2,947.7 922.2,947.4 924.2,947.1 926.1,946.9 928.1,946.6 930.1,946.3 932.1,946.0 934.0,945.7 936.0,945.4 938.0,945.0 940.0,944.7 941.9,944.4 943.9,944.0 945.9,943.7 947.8,943.3 949.8,942.9 951.8,942.6 953.7,942.2 955.7,941.8 957.7,941.4 959.6,941.0 961.6,940.6 963.5,940.1 965.5,939.7 967.4,939.2 969.4,938.8 971.3,938.3 973.3,937.9 975.2,937.4 977.1,936.9 979.1,936.4 981.0,935.9 982.9,935.3 984.9,934.8 986.8,934.3 988.7,933.8 990.6,933.3 992.6,932.8 994.5,932.3 996.5,931.8 998.4,931.3 1000.3,930.8 1002.2,930.3 1004.2,929.7 1006.1,929.1 1008.0,928.5 1009.8,927.8 1011.7,927.1 1013.6,926.4 1015.4,925.7 1017.3,924.9 1019.1,924.1 1021.0,923.3 1022.8,922.6 1024.6,921.8 1026.5,921.0 1028.3,920.2 1030.2,919.4 1032.0,918.7 1033.9,917.9 1035.7,917.2 1037.6,916.4 1039.4,915.6 1041.3,914.9 1043.1,914.1 1044.9,913.3 1046.7,912.5 1048.6,911.6 1050.4,910.8 1052.2,909.9 1054.0,909.0 1055.8,908.1 1057.6,907.2 1059.3,906.4 1061.1,905.5 1062.9,904.6 1064.7,903.7 1066.5,902.9 1068.4,902.0 1070.2,901.2 1072.0,900.5 1073.9,899.7 1075.7,899.0 1077.6,898.2 1079.4,897.4 1081.2,896.6 1083.1,895.8 1084.9,895.0 1086.7,894.1 1088.5,893.2 1090.2,892.3 1092.0,891.4 1093.8,890.5 1095.6,889.5 1097.3,888.6 1099.1,887.7 1100.9,886.7 1102.6,885.8 1104.4,884.9 1106.2,883.9 1107.9,883.0 1109.7,882.0 1111.5,881.1 1113.2,880.2 1115.0,879.3 1116.8,878.3 1118.6,877.4 1120.4,876.5 1122.1,875.6 1123.9,874.7 1125.7,873.8 1127.5,873.0 1129.3,872.1 1131.1,871.2 1132.9,870.3 1134.7,869.4 1136.5,868.5 1138.3,867.7 1140.1,866.8 1141.9,866.0 1143.7,865.1 1145.5,864.3 1147.3,863.4 1149.1,862.6 1151.0,861.8 1152.8,860.9 1154.6,860.1 1156.5,859.4 1158.3,858.6 1160.2,857.8 1162.0,857.1 1163.9,856.4 1165.7,855.6 1167.6,854.9 1169.5,854.2 1171.3,853.5 1173.2,852.8 1175.1,852.1 1177.0,851.4 1178.8,850.7 1180.7,850.0 1182.6,849.3 1184.5,848.7 1186.4,848.0 1188.3,847.4 1190.2,846.7 1192.0,846.0 1193.9,845.4 1195.8,844.7 1197.7,844.1 1199.6,843.4 1201.5,842.7 1203.4,842.1 1205.3,841.4 1207.1,840.7 1209.0,840.1 1210.9,839.4 1212.8,838.7 1214.7,838.0 1216.5,837.3 1218.4,836.6 1220.2,835.8 1222.1,835.1 1223.9,834.3 1225.8,833.6 1227.6,832.8 1229.5,832.0 1231.3,831.2 1233.1,830.3 1234.9,829.4 1236.6,828.5 1238.4,827.5 1240.1,826.6 1241.8,825.5 1243.6,824.5 1245.3,823.5 1246.9,822.4 1248.6,821.3 1250.3,820.2 1251.9,819.1 1253.5,817.9 1255.1,816.7 1256.7,815.5 1258.2,814.2 1259.7,812.9 1261.2,811.5 1262.7,810.2 1264.1,808.8 1265.6,807.5 1267.1,806.1 1268.6,804.8 1270.1,803.5 1271.5,802.1 1273.0,800.8 1274.5,799.4 1275.9,798.0 1277.3,796.6 1278.7,795.2 1280.1,793.7 1281.5,792.3 1282.8,790.8 1284.1,789.3 1285.5,787.8 1286.8,786.3 1288.1,784.8 1289.4,783.3 1290.8,781.8 1292.1,780.3 1293.4,778.8 1294.7,777.3 1296.0,775.8 1297.4,774.3 1298.7,772.8 1300.1,771.3 1301.4,769.9 1302.8,768.4 1304.1,766.9 1305.5,765.5 1306.8,764.0 1308.2,762.5 1309.5,761.0 1310.8,759.5 1312.1,758.0 1313.4,756.4 1314.6,754.9 1315.9,753.3 1317.1,751.8 1318.3,750.2 1319.5,748.6 1320.7,746.9 1321.8,745.3 1323.0,743.7 1324.1,742.0 1325.3,740.4 1326.4,738.7 1327.5,737.1 1328.7,735.5 1329.8,733.8 1330.9,732.1 1332.1,730.5 1333.2,728.8 1334.3,727.2 1335.4,725.5 1336.4,723.8 1337.5,722.1 1338.6,720.4 1339.7,718.7 1340.7,717.0 1341.8,715.4 1342.9,713.7 1343.9,712.0 1345.0,710.3 1346.0,708.6 1347.1,706.9 1348.2,705.2 1349.2,703.5 1350.3,701.8 1351.4,700.1 1352.4,698.4 1353.5,696.7 1354.5,695.0 1355.6,693.3 1356.7,691.6 1357.7,689.9 1358.8,688.2 1359.8,686.5 1360.9,684.8 1361.9,683.1 1363.0,681.4 1364.0,679.7 1365.1,678.0 1366.1,676.3 1367.2,674.6 1368.2,672.9 1369.3,671.2 1370.4,669.5 1371.4,667.8 1372.5,666.1 1373.5,664.4 1374.6,662.8 1375.7,661.1 1376.8,659.4 1377.8,657.7 1378.9,656.0 1380.0,654.3 1381.1,652.6 1382.1,650.9 1383.2,649.3 1384.2,647.6 1385.3,645.9 1386.4,644.2 1387.4,642.5 1388.5,640.7 1389.5,639.0 1390.5,637.3 1391.6,635.6 1392.6,633.9 1393.7,632.2 1394.7,630.5 1395.8,628.8 1396.8,627.1 1397.9,625.4 1398.9,623.7 1400.0,622.0 1401.0,620.3 1402.0,618.6 1403.1,616.9 1404.1,615.2 1405.2,613.5 1406.2,611.8 1407.3,610.1 1408.3,608.4 1409.4,606.7 1410.5,605.0 1411.5,603.3 1412.6,601.6 1413.7,599.9 1414.7,598.2 1415.8,596.5 1416.9,594.8 1417.9,593.1 1419.0,591.5 1420.1,589.8 1421.2,588.1 1422.2,586.4 1423.3,584.7 1424.4,583.0 1425.5,581.4 1426.5,579.7 1427.6,578.1 1428.6,576.5 1429.5,575.0 1430.4,573.7 1431.1,572.5 1434.1,567.9"/>

<!-- arrows -->
<g stroke="#000" stroke-width="3.6" fill="#000">
<line x1="190" y1="877.7" x2="825" y2="877.7"/>
<line x1="876" y1="529.3" x2="1283" y2="529.3"/>
<line x1="1336" y1="181.6" x2="1435" y2="181.6"/>
</g>
<g fill="#000">
<polygon points="166,877.7 194.6,868.1 194.6,887.3"/>
<polygon points="848.2,877.7 821.3,868.1 821.3,887.3"/>
<polygon points="854.5,529.3 881.2,519.7 881.2,538.9"/>
<polygon points="1306.2,529.3 1278.1,519.7 1278.1,538.9"/>
<polygon points="1313.7,181.6 1340.3,172 1340.3,191.2"/>
<polygon points="1459,181.6 1430.4,172 1430.4,191.2"/>
</g>
<!-- texts -->
<text x="1325" y="134.6" font-size="44">Failure</text>
<text x="926" y="501.9" font-size="44">Degradation state</text>
<text x="380" y="855" font-size="44">Normal state</text>
<text x="306" y="742.5" font-size="44">Failure threshold</text>
<!-- legend -->
<rect x="182" y="71" width="408" height="128" fill="#fff" stroke="#000" stroke-width="1.6"/>
<circle cx="243.5" cy="104.5" r="18.6" fill="#00f"/>
<line x1="190" y1="165" x2="298" y2="165" stroke="#f00" stroke-width="5" stroke-linecap="round"/>
<text x="312" y="120.5" font-size="48.7">Orignal result</text>
<text x="312" y="180.6" font-size="48.7">Filtered result</text>
<!-- axis labels -->
<g transform="translate(0,255.2) scale(1,1.065) translate(0,-255.2)"><text x="105" y="255.2" font-size="45">20</text></g>
<g transform="translate(0,671.7) scale(1,1.065) translate(0,-671.7)"><text x="105" y="671.7" font-size="45">10</text></g>
<g transform="translate(0,1088.3) scale(1,1.065) translate(0,-1088.3)"><text x="126.5" y="1088.3" font-size="45">0</text></g>
<g transform="translate(0,1135.2) scale(1,1.065) translate(0,-1135.2)"><text x="153" y="1135.2" font-size="44">0.0</text></g>
<g transform="translate(0,1139.0) scale(1,1.065) translate(0,-1139.0)"><text x="329.7" y="1139" font-size="43">3.0×<tspan dx="3.5">10</tspan><tspan font-size="27.5" dx="0.5" dy="-19">3</tspan></text></g>
<g transform="translate(0,1139.0) scale(1,1.065) translate(0,-1139.0)"><text x="556" y="1139" font-size="43">6.0×<tspan dx="2.5">10</tspan><tspan font-size="27.5" dx="0.5" dy="-19">3</tspan></text></g>
<g transform="translate(0,1139.0) scale(1,1.065) translate(0,-1139.0)"><text x="787" y="1139" font-size="43">9.0×<tspan dx="0.3">10</tspan><tspan font-size="27.5" dx="0.5" dy="-19">3</tspan></text></g>
<g transform="translate(0,1139.0) scale(1,1.065) translate(0,-1139.0)"><text x="1012.5" y="1139" font-size="43">1.2×<tspan dx="1.5">10</tspan><tspan font-size="27.5" dx="0.5" dy="-19">4</tspan></text></g>
<g transform="translate(0,1139.0) scale(1,1.065) translate(0,-1139.0)"><text x="1239" y="1139" font-size="43">1.5×<tspan dx="1.0">10</tspan><tspan font-size="27.5" dx="0.5" dy="-19">4</tspan></text></g>
<text x="752.5" y="1216.6" font-size="54">Cycle</text>
<text transform="translate(72.5,655) rotate(-90)" font-size="55">g(<tspan font-style="italic">I</tspan><tspan font-style="italic" font-size="37" dy="11">temp</tspan><tspan dy="-11">,</tspan><tspan font-style="italic">I</tspan><tspan font-style="italic" font-size="37" dy="11">k</tspan><tspan dy="-11">)</tspan></text>
</svg>
</body></html>
